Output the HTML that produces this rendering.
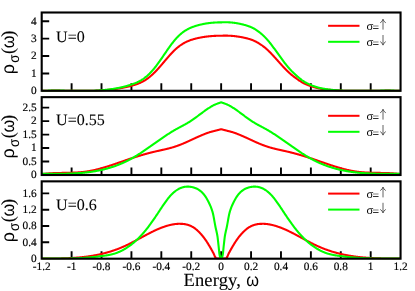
<!DOCTYPE html>
<html><head><meta charset="utf-8"><title>DOS</title>
<style>
html,body{margin:0;padding:0;background:#fff;}
body{width:415px;height:291px;position:relative;overflow:hidden;font-family:"Liberation Serif",serif;}
text{font-family:"Liberation Serif",serif;fill:#000;stroke:#000;stroke-width:0.1px;text-rendering:geometricPrecision;}
.tk{font-size:11.3px;stroke-width:0.18px;}
.ul{font-size:16px;}
.lg{font-size:11.5px;}
.xl{font-size:18.5px;}
.gs{font-family:"Liberation Sans",sans-serif;stroke:none;}
</style></head><body>
<svg width="415" height="291" viewBox="0 0 415 291" style="position:absolute;left:0;top:0;will-change:transform">
<rect width="415" height="291" fill="#fff"/>
<path d="M71.61,90.80 V83.30 M101.52,90.80 V83.30 M131.43,90.80 V83.30 M161.33,90.80 V83.30 M191.24,90.80 V83.30 M221.15,90.80 V83.30 M251.06,90.80 V83.30 M280.97,90.80 V83.30 M310.88,90.80 V83.30 M340.78,90.80 V83.30 M370.69,90.80 V83.30 M41.70,73.48 H49.20 M41.70,56.06 H49.20 M41.70,38.63 H49.20 M41.70,21.21 H49.20" stroke="#000" stroke-width="1.90" fill="none"/>
<clipPath id="c0"><rect x="41.70" y="12.50" width="358.85" height="78.90"/></clipPath>
<g clip-path="url(#c0)" fill="none" stroke-width="2.10" stroke-linejoin="round">
<path d="M41.70,90.90 L42.06,90.88 L42.42,90.87 L42.78,90.86 L43.14,90.84 L43.50,90.83 L43.86,90.82 L44.22,90.81 L44.58,90.80 L44.94,90.79 L45.30,90.78 L45.66,90.77 L46.02,90.76 L46.38,90.75 L46.73,90.74 L47.09,90.73 L47.45,90.73 L47.81,90.72 L48.17,90.71 L48.53,90.71 L48.89,90.70 L49.25,90.70 L49.61,90.69 L49.97,90.69 L50.33,90.68 L50.69,90.68 L51.05,90.67 L51.41,90.67 L51.77,90.67 L52.13,90.66 L52.49,90.66 L52.85,90.66 L53.21,90.66 L53.57,90.66 L53.93,90.66 L54.29,90.65 L54.65,90.65 L55.01,90.65 L55.37,90.65 L55.73,90.65 L56.08,90.65 L56.44,90.65 L56.80,90.66 L57.16,90.66 L57.52,90.66 L57.88,90.66 L58.24,90.66 L58.60,90.66 L58.96,90.66 L59.32,90.67 L59.68,90.67 L60.04,90.67 L60.40,90.68 L60.76,90.68 L61.12,90.68 L61.48,90.68 L61.84,90.69 L62.20,90.69 L62.56,90.70 L62.92,90.70 L63.28,90.70 L63.64,90.71 L64.00,90.71 L64.36,90.72 L64.72,90.72 L65.08,90.72 L65.43,90.73 L65.79,90.73 L66.15,90.74 L66.51,90.74 L66.87,90.75 L67.23,90.75 L67.59,90.76 L67.95,90.76 L68.31,90.77 L68.67,90.77 L69.03,90.78 L69.39,90.78 L69.75,90.78 L70.11,90.79 L70.47,90.79 L70.83,90.80 L71.19,90.80 L71.55,90.81 L71.91,90.81 L72.27,90.82 L72.63,90.82 L72.99,90.83 L73.35,90.83 L73.71,90.84 L74.07,90.84 L74.43,90.84 L74.78,90.85 L75.14,90.85 L75.50,90.86 L75.86,90.86 L76.22,90.86 L76.58,90.87 L76.94,90.87 L77.30,90.87 L77.66,90.88 L78.02,90.88 L78.38,90.88 L78.74,90.88 L79.10,90.89 L79.46,90.89 L79.82,90.89 L80.18,90.89 L80.54,90.89 L80.90,90.89 L81.26,90.89 L81.62,90.90 L81.98,90.90 L82.34,90.90 L82.70,90.90 L83.06,90.90 L83.42,90.90 L83.78,90.89 L84.14,90.89 L84.49,90.89 L84.85,90.89 L85.21,90.89 L85.57,90.89 L85.93,90.88 L86.29,90.88 L86.65,90.88 L87.01,90.88 L87.37,90.87 L87.73,90.87 L88.09,90.86 L88.45,90.86 L88.81,90.85 L89.17,90.85 L89.53,90.84 L89.89,90.83 L90.25,90.83 L90.61,90.82 L90.97,90.81 L91.33,90.81 L91.69,90.80 L92.05,90.79 L92.41,90.78 L92.77,90.77 L93.13,90.76 L93.49,90.75 L93.84,90.74 L94.20,90.73 L94.56,90.71 L94.92,90.70 L95.28,90.69 L95.64,90.68 L96.00,90.66 L96.36,90.65 L96.72,90.63 L97.08,90.62 L97.44,90.60 L97.80,90.58 L98.16,90.57 L98.52,90.55 L98.88,90.53 L99.24,90.51 L99.60,90.49 L99.96,90.47 L100.32,90.45 L100.68,90.43 L101.04,90.41 L101.40,90.39 L101.76,90.37 L102.12,90.34 L102.48,90.32 L102.84,90.29 L103.19,90.27 L103.55,90.24 L103.91,90.22 L104.27,90.19 L104.63,90.16 L104.99,90.13 L105.35,90.10 L105.71,90.07 L106.07,90.04 L106.43,90.01 L106.79,89.98 L107.15,89.95 L107.51,89.91 L107.87,89.88 L108.23,89.85 L108.59,89.81 L108.95,89.77 L109.31,89.74 L109.67,89.70 L110.03,89.66 L110.39,89.62 L110.75,89.58 L111.11,89.54 L111.47,89.50 L111.83,89.46 L112.19,89.41 L112.54,89.37 L112.90,89.32 L113.26,89.28 L113.62,89.23 L113.98,89.19 L114.34,89.14 L114.70,89.09 L115.06,89.04 L115.42,88.99 L115.78,88.94 L116.14,88.88 L116.50,88.83 L116.86,88.78 L117.22,88.72 L117.58,88.66 L117.94,88.61 L118.30,88.55 L118.66,88.49 L119.02,88.43 L119.38,88.37 L119.74,88.31 L120.10,88.25 L120.46,88.18 L120.82,88.12 L121.18,88.05 L121.54,87.99 L121.90,87.92 L122.25,87.85 L122.61,87.78 L122.97,87.71 L123.33,87.64 L123.69,87.57 L124.05,87.49 L124.41,87.42 L124.77,87.34 L125.13,87.27 L125.49,87.19 L125.85,87.11 L126.21,87.03 L126.57,86.95 L126.93,86.87 L127.29,86.79 L127.65,86.70 L128.01,86.62 L128.37,86.53 L128.73,86.44 L129.09,86.36 L129.45,86.27 L129.81,86.18 L130.17,86.08 L130.53,85.99 L130.89,85.90 L131.25,85.80 L131.60,85.71 L131.96,85.61 L132.32,85.51 L132.68,85.41 L133.04,85.31 L133.40,85.20 L133.76,85.10 L134.12,84.99 L134.48,84.88 L134.84,84.77 L135.20,84.66 L135.56,84.54 L135.92,84.42 L136.28,84.30 L136.64,84.18 L137.00,84.05 L137.36,83.92 L137.72,83.79 L138.08,83.65 L138.44,83.51 L138.80,83.37 L139.16,83.22 L139.52,83.07 L139.88,82.92 L140.24,82.76 L140.60,82.60 L140.95,82.43 L141.31,82.26 L141.67,82.08 L142.03,81.90 L142.39,81.72 L142.75,81.53 L143.11,81.33 L143.47,81.13 L143.83,80.93 L144.19,80.72 L144.55,80.50 L144.91,80.28 L145.27,80.06 L145.63,79.83 L145.99,79.59 L146.35,79.35 L146.71,79.10 L147.07,78.85 L147.43,78.60 L147.79,78.34 L148.15,78.07 L148.51,77.80 L148.87,77.52 L149.23,77.24 L149.59,76.95 L149.95,76.66 L150.31,76.37 L150.66,76.06 L151.02,75.76 L151.38,75.45 L151.74,75.13 L152.10,74.81 L152.46,74.48 L152.82,74.15 L153.18,73.81 L153.54,73.47 L153.90,73.12 L154.26,72.77 L154.62,72.41 L154.98,72.05 L155.34,71.68 L155.70,71.31 L156.06,70.94 L156.42,70.56 L156.78,70.17 L157.14,69.78 L157.50,69.39 L157.86,69.00 L158.22,68.60 L158.58,68.20 L158.94,67.80 L159.30,67.39 L159.66,66.98 L160.01,66.57 L160.37,66.16 L160.73,65.74 L161.09,65.32 L161.45,64.91 L161.81,64.49 L162.17,64.06 L162.53,63.64 L162.89,63.22 L163.25,62.80 L163.61,62.37 L163.97,61.95 L164.33,61.52 L164.69,61.10 L165.05,60.67 L165.41,60.25 L165.77,59.83 L166.13,59.41 L166.49,58.98 L166.85,58.56 L167.21,58.15 L167.57,57.73 L167.93,57.31 L168.29,56.90 L168.65,56.49 L169.01,56.08 L169.36,55.67 L169.72,55.27 L170.08,54.87 L170.44,54.47 L170.80,54.08 L171.16,53.69 L171.52,53.30 L171.88,52.92 L172.24,52.54 L172.60,52.16 L172.96,51.79 L173.32,51.42 L173.68,51.06 L174.04,50.70 L174.40,50.35 L174.76,50.00 L175.12,49.66 L175.48,49.32 L175.84,48.99 L176.20,48.67 L176.56,48.35 L176.92,48.04 L177.28,47.74 L177.64,47.44 L178.00,47.14 L178.36,46.86 L178.71,46.57 L179.07,46.30 L179.43,46.03 L179.79,45.77 L180.15,45.51 L180.51,45.26 L180.87,45.01 L181.23,44.77 L181.59,44.53 L181.95,44.30 L182.31,44.07 L182.67,43.85 L183.03,43.64 L183.39,43.43 L183.75,43.22 L184.11,43.02 L184.47,42.82 L184.83,42.63 L185.19,42.44 L185.55,42.26 L185.91,42.08 L186.27,41.90 L186.63,41.73 L186.99,41.57 L187.35,41.41 L187.71,41.25 L188.07,41.09 L188.42,40.94 L188.78,40.80 L189.14,40.65 L189.50,40.51 L189.86,40.38 L190.22,40.24 L190.58,40.11 L190.94,39.99 L191.30,39.87 L191.66,39.75 L192.02,39.63 L192.38,39.51 L192.74,39.40 L193.10,39.30 L193.46,39.19 L193.82,39.09 L194.18,38.99 L194.54,38.89 L194.90,38.79 L195.26,38.70 L195.62,38.61 L195.98,38.52 L196.34,38.43 L196.70,38.35 L197.06,38.26 L197.42,38.18 L197.77,38.10 L198.13,38.02 L198.49,37.95 L198.85,37.87 L199.21,37.80 L199.57,37.73 L199.93,37.66 L200.29,37.59 L200.65,37.52 L201.01,37.45 L201.37,37.39 L201.73,37.32 L202.09,37.26 L202.45,37.20 L202.81,37.14 L203.17,37.08 L203.53,37.02 L203.89,36.97 L204.25,36.91 L204.61,36.86 L204.97,36.81 L205.33,36.76 L205.69,36.71 L206.05,36.66 L206.41,36.62 L206.77,36.57 L207.12,36.53 L207.48,36.48 L207.84,36.44 L208.20,36.40 L208.56,36.36 L208.92,36.32 L209.28,36.29 L209.64,36.25 L210.00,36.22 L210.36,36.19 L210.72,36.15 L211.08,36.12 L211.44,36.09 L211.80,36.07 L212.16,36.04 L212.52,36.01 L212.88,35.99 L213.24,35.97 L213.60,35.94 L213.96,35.92 L214.32,35.90 L214.68,35.88 L215.04,35.87 L215.40,35.85 L215.76,35.83 L216.12,35.82 L216.47,35.81 L216.83,35.79 L217.19,35.78 L217.55,35.77 L217.91,35.76 L218.27,35.76 L218.63,35.75 L218.99,35.74 L219.35,35.74 L219.71,35.74 L220.07,35.73 L220.43,35.73 L220.79,35.73 L221.15,35.73 L221.51,35.71 L221.87,35.70 L222.23,35.69 L222.59,35.68 L222.95,35.67 L223.31,35.67 L223.67,35.66 L224.03,35.65 L224.39,35.65 L224.75,35.65 L225.11,35.65 L225.47,35.65 L225.83,35.65 L226.18,35.65 L226.54,35.65 L226.90,35.66 L227.26,35.66 L227.62,35.67 L227.98,35.68 L228.34,35.69 L228.70,35.71 L229.06,35.72 L229.42,35.73 L229.78,35.75 L230.14,35.77 L230.50,35.79 L230.86,35.81 L231.22,35.83 L231.58,35.86 L231.94,35.89 L232.30,35.91 L232.66,35.94 L233.02,35.98 L233.38,36.01 L233.74,36.04 L234.10,36.08 L234.46,36.12 L234.82,36.16 L235.18,36.20 L235.53,36.25 L235.89,36.29 L236.25,36.34 L236.61,36.39 L236.97,36.44 L237.33,36.49 L237.69,36.54 L238.05,36.59 L238.41,36.65 L238.77,36.70 L239.13,36.76 L239.49,36.82 L239.85,36.88 L240.21,36.94 L240.57,37.00 L240.93,37.07 L241.29,37.13 L241.65,37.20 L242.01,37.26 L242.37,37.33 L242.73,37.40 L243.09,37.48 L243.45,37.55 L243.81,37.63 L244.17,37.70 L244.53,37.78 L244.88,37.86 L245.24,37.94 L245.60,38.02 L245.96,38.11 L246.32,38.20 L246.68,38.29 L247.04,38.38 L247.40,38.47 L247.76,38.57 L248.12,38.66 L248.48,38.76 L248.84,38.87 L249.20,38.97 L249.56,39.08 L249.92,39.19 L250.28,39.31 L250.64,39.43 L251.00,39.55 L251.36,39.68 L251.72,39.81 L252.08,39.95 L252.44,40.09 L252.80,40.24 L253.16,40.39 L253.52,40.54 L253.88,40.70 L254.23,40.86 L254.59,41.03 L254.95,41.20 L255.31,41.38 L255.67,41.56 L256.03,41.74 L256.39,41.93 L256.75,42.13 L257.11,42.32 L257.47,42.53 L257.83,42.73 L258.19,42.94 L258.55,43.15 L258.91,43.37 L259.27,43.59 L259.63,43.82 L259.99,44.05 L260.35,44.28 L260.71,44.52 L261.07,44.76 L261.43,45.01 L261.79,45.26 L262.15,45.51 L262.51,45.77 L262.87,46.03 L263.23,46.29 L263.59,46.57 L263.94,46.84 L264.30,47.12 L264.66,47.41 L265.02,47.70 L265.38,48.00 L265.74,48.31 L266.10,48.62 L266.46,48.93 L266.82,49.25 L267.18,49.58 L267.54,49.91 L267.90,50.24 L268.26,50.59 L268.62,50.93 L268.98,51.28 L269.34,51.64 L269.70,52.00 L270.06,52.36 L270.42,52.73 L270.78,53.10 L271.14,53.47 L271.50,53.85 L271.86,54.24 L272.22,54.62 L272.58,55.01 L272.94,55.40 L273.29,55.79 L273.65,56.18 L274.01,56.57 L274.37,56.96 L274.73,57.36 L275.09,57.75 L275.45,58.15 L275.81,58.55 L276.17,58.95 L276.53,59.35 L276.89,59.75 L277.25,60.15 L277.61,60.55 L277.97,60.95 L278.33,61.35 L278.69,61.75 L279.05,62.15 L279.41,62.55 L279.77,62.95 L280.13,63.35 L280.49,63.75 L280.85,64.16 L281.21,64.56 L281.57,64.96 L281.93,65.35 L282.29,65.75 L282.64,66.15 L283.00,66.54 L283.36,66.93 L283.72,67.32 L284.08,67.70 L284.44,68.08 L284.80,68.46 L285.16,68.84 L285.52,69.21 L285.88,69.58 L286.24,69.94 L286.60,70.30 L286.96,70.66 L287.32,71.01 L287.68,71.36 L288.04,71.70 L288.40,72.04 L288.76,72.37 L289.12,72.70 L289.48,73.02 L289.84,73.34 L290.20,73.66 L290.56,73.97 L290.92,74.28 L291.28,74.58 L291.64,74.88 L291.99,75.18 L292.35,75.47 L292.71,75.75 L293.07,76.04 L293.43,76.32 L293.79,76.59 L294.15,76.86 L294.51,77.13 L294.87,77.40 L295.23,77.67 L295.59,77.94 L295.95,78.21 L296.31,78.47 L296.67,78.74 L297.03,79.00 L297.39,79.26 L297.75,79.51 L298.11,79.77 L298.47,80.02 L298.83,80.27 L299.19,80.51 L299.55,80.75 L299.91,80.99 L300.27,81.22 L300.63,81.45 L300.99,81.67 L301.35,81.89 L301.70,82.11 L302.06,82.32 L302.42,82.53 L302.78,82.73 L303.14,82.92 L303.50,83.11 L303.86,83.30 L304.22,83.48 L304.58,83.66 L304.94,83.83 L305.30,83.99 L305.66,84.15 L306.02,84.30 L306.38,84.45 L306.74,84.60 L307.10,84.74 L307.46,84.88 L307.82,85.03 L308.18,85.16 L308.54,85.30 L308.90,85.44 L309.26,85.57 L309.62,85.70 L309.98,85.83 L310.34,85.96 L310.70,86.08 L311.05,86.21 L311.41,86.33 L311.77,86.45 L312.13,86.57 L312.49,86.69 L312.85,86.80 L313.21,86.91 L313.57,87.02 L313.93,87.13 L314.29,87.24 L314.65,87.34 L315.01,87.44 L315.37,87.54 L315.73,87.63 L316.09,87.73 L316.45,87.82 L316.81,87.90 L317.17,87.99 L317.53,88.07 L317.89,88.14 L318.25,88.22 L318.61,88.29 L318.97,88.36 L319.33,88.43 L319.69,88.50 L320.05,88.57 L320.40,88.63 L320.76,88.69 L321.12,88.75 L321.48,88.81 L321.84,88.87 L322.20,88.93 L322.56,88.99 L322.92,89.04 L323.28,89.09 L323.64,89.14 L324.00,89.20 L324.36,89.24 L324.72,89.29 L325.08,89.34 L325.44,89.38 L325.80,89.43 L326.16,89.47 L326.52,89.51 L326.88,89.56 L327.24,89.60 L327.60,89.63 L327.96,89.67 L328.32,89.71 L328.68,89.75 L329.04,89.78 L329.40,89.82 L329.76,89.85 L330.11,89.88 L330.47,89.91 L330.83,89.95 L331.19,89.98 L331.55,90.01 L331.91,90.04 L332.27,90.06 L332.63,90.09 L332.99,90.12 L333.35,90.15 L333.71,90.17 L334.07,90.20 L334.43,90.22 L334.79,90.25 L335.15,90.27 L335.51,90.30 L335.87,90.32 L336.23,90.34 L336.59,90.37 L336.95,90.39 L337.31,90.41 L337.67,90.43 L338.03,90.45 L338.39,90.48 L338.75,90.50 L339.11,90.52 L339.46,90.54 L339.82,90.56 L340.18,90.58 L340.54,90.60 L340.90,90.62 L341.26,90.64 L341.62,90.66 L341.98,90.68 L342.34,90.70 L342.70,90.72 L343.06,90.73 L343.42,90.75 L343.78,90.76 L344.14,90.78 L344.50,90.79 L344.86,90.81 L345.22,90.82 L345.58,90.83 L345.94,90.85 L346.30,90.86 L346.66,90.87 L347.02,90.88 L347.38,90.89 L347.74,90.90 L348.10,90.90 L348.46,90.90 L348.81,90.90 L349.17,90.90 L349.53,90.90 L349.89,90.90 L350.25,90.90 L350.61,90.90 L350.97,90.90 L351.33,90.90 L351.69,90.90 L352.05,90.90 L352.41,90.90 L352.77,90.90 L353.13,90.90 L353.49,90.90 L353.85,90.90 L354.21,90.90 L354.57,90.90 L354.93,90.90 L355.29,90.90 L355.65,90.90 L356.01,90.90 L356.37,90.90 L356.73,90.90 L357.09,90.90 L357.45,90.90 L357.81,90.90 L358.16,90.90 L358.52,90.90 L358.88,90.90 L359.24,90.90 L359.60,90.90 L359.96,90.90 L360.32,90.90 L360.68,90.90 L361.04,90.90 L361.40,90.90 L361.76,90.90 L362.12,90.90 L362.48,90.90 L362.84,90.90 L363.20,90.90 L363.56,90.90 L363.92,90.90 L364.28,90.90 L364.64,90.90 L365.00,90.90 L365.36,90.90 L365.72,90.90 L366.08,90.90 L366.44,90.90 L366.80,90.90 L367.16,90.90 L367.52,90.90 L367.87,90.90 L368.23,90.90 L368.59,90.90 L368.95,90.90 L369.31,90.89 L369.67,90.89 L370.03,90.88 L370.39,90.88 L370.75,90.87 L371.11,90.86 L371.47,90.86 L371.83,90.85 L372.19,90.84 L372.55,90.84 L372.91,90.83 L373.27,90.83 L373.63,90.82 L373.99,90.81 L374.35,90.81 L374.71,90.80 L375.07,90.80 L375.43,90.79 L375.79,90.78 L376.15,90.78 L376.51,90.77 L376.87,90.77 L377.22,90.76 L377.58,90.76 L377.94,90.75 L378.30,90.74 L378.66,90.74 L379.02,90.73 L379.38,90.73 L379.74,90.72 L380.10,90.72 L380.46,90.72 L380.82,90.71 L381.18,90.71 L381.54,90.70 L381.90,90.70 L382.26,90.69 L382.62,90.69 L382.98,90.69 L383.34,90.68 L383.70,90.68 L384.06,90.68 L384.42,90.68 L384.78,90.67 L385.14,90.67 L385.50,90.67 L385.86,90.67 L386.22,90.67 L386.57,90.67 L386.93,90.67 L387.29,90.67 L387.65,90.66 L388.01,90.66 L388.37,90.67 L388.73,90.67 L389.09,90.67 L389.45,90.67 L389.81,90.67 L390.17,90.67 L390.53,90.67 L390.89,90.68 L391.25,90.68 L391.61,90.68 L391.97,90.69 L392.33,90.69 L392.69,90.69 L393.05,90.70 L393.41,90.70 L393.77,90.71 L394.13,90.72 L394.49,90.72 L394.85,90.73 L395.21,90.74 L395.57,90.74 L395.92,90.75 L396.28,90.76 L396.64,90.77 L397.00,90.78 L397.36,90.79 L397.72,90.80 L398.08,90.81 L398.44,90.82 L398.80,90.83 L399.16,90.84 L399.52,90.86 L399.88,90.87 L400.24,90.88 L400.60,90.90" stroke="#ff0000"/>
<path d="M41.70,90.90 L42.06,90.88 L42.42,90.86 L42.78,90.85 L43.14,90.83 L43.50,90.82 L43.86,90.80 L44.22,90.79 L44.58,90.77 L44.94,90.76 L45.30,90.75 L45.66,90.74 L46.02,90.73 L46.38,90.71 L46.73,90.70 L47.09,90.69 L47.45,90.69 L47.81,90.68 L48.17,90.67 L48.53,90.66 L48.89,90.65 L49.25,90.65 L49.61,90.64 L49.97,90.63 L50.33,90.63 L50.69,90.62 L51.05,90.62 L51.41,90.61 L51.77,90.61 L52.13,90.61 L52.49,90.60 L52.85,90.60 L53.21,90.60 L53.57,90.60 L53.93,90.60 L54.29,90.60 L54.65,90.59 L55.01,90.59 L55.37,90.59 L55.73,90.59 L56.08,90.59 L56.44,90.59 L56.80,90.60 L57.16,90.60 L57.52,90.60 L57.88,90.60 L58.24,90.60 L58.60,90.61 L58.96,90.61 L59.32,90.61 L59.68,90.61 L60.04,90.62 L60.40,90.62 L60.76,90.62 L61.12,90.63 L61.48,90.63 L61.84,90.64 L62.20,90.64 L62.56,90.65 L62.92,90.65 L63.28,90.65 L63.64,90.66 L64.00,90.67 L64.36,90.67 L64.72,90.68 L65.08,90.68 L65.43,90.69 L65.79,90.69 L66.15,90.70 L66.51,90.70 L66.87,90.71 L67.23,90.72 L67.59,90.72 L67.95,90.73 L68.31,90.73 L68.67,90.74 L69.03,90.75 L69.39,90.75 L69.75,90.76 L70.11,90.76 L70.47,90.77 L70.83,90.77 L71.19,90.78 L71.55,90.79 L71.91,90.79 L72.27,90.80 L72.63,90.80 L72.99,90.81 L73.35,90.81 L73.71,90.82 L74.07,90.82 L74.43,90.83 L74.78,90.83 L75.14,90.84 L75.50,90.84 L75.86,90.85 L76.22,90.85 L76.58,90.86 L76.94,90.86 L77.30,90.87 L77.66,90.87 L78.02,90.87 L78.38,90.88 L78.74,90.88 L79.10,90.88 L79.46,90.88 L79.82,90.89 L80.18,90.89 L80.54,90.89 L80.90,90.89 L81.26,90.89 L81.62,90.89 L81.98,90.89 L82.34,90.90 L82.70,90.90 L83.06,90.90 L83.42,90.89 L83.78,90.89 L84.14,90.89 L84.49,90.89 L84.85,90.89 L85.21,90.89 L85.57,90.88 L85.93,90.88 L86.29,90.88 L86.65,90.87 L87.01,90.87 L87.37,90.86 L87.73,90.86 L88.09,90.85 L88.45,90.85 L88.81,90.84 L89.17,90.83 L89.53,90.83 L89.89,90.82 L90.25,90.81 L90.61,90.80 L90.97,90.79 L91.33,90.78 L91.69,90.77 L92.05,90.76 L92.41,90.75 L92.77,90.74 L93.13,90.73 L93.49,90.71 L93.84,90.70 L94.20,90.68 L94.56,90.67 L94.92,90.65 L95.28,90.64 L95.64,90.62 L96.00,90.60 L96.36,90.59 L96.72,90.57 L97.08,90.55 L97.44,90.53 L97.80,90.51 L98.16,90.49 L98.52,90.47 L98.88,90.44 L99.24,90.42 L99.60,90.40 L99.96,90.37 L100.32,90.35 L100.68,90.32 L101.04,90.29 L101.40,90.27 L101.76,90.24 L102.12,90.21 L102.48,90.18 L102.84,90.15 L103.19,90.12 L103.55,90.08 L103.91,90.05 L104.27,90.02 L104.63,89.98 L104.99,89.95 L105.35,89.91 L105.71,89.87 L106.07,89.84 L106.43,89.80 L106.79,89.76 L107.15,89.72 L107.51,89.68 L107.87,89.63 L108.23,89.59 L108.59,89.55 L108.95,89.50 L109.31,89.46 L109.67,89.41 L110.03,89.36 L110.39,89.31 L110.75,89.26 L111.11,89.21 L111.47,89.16 L111.83,89.11 L112.19,89.05 L112.54,89.00 L112.90,88.94 L113.26,88.89 L113.62,88.83 L113.98,88.77 L114.34,88.71 L114.70,88.65 L115.06,88.59 L115.42,88.52 L115.78,88.46 L116.14,88.39 L116.50,88.33 L116.86,88.26 L117.22,88.19 L117.58,88.12 L117.94,88.05 L118.30,87.98 L118.66,87.91 L119.02,87.83 L119.38,87.76 L119.74,87.68 L120.10,87.60 L120.46,87.52 L120.82,87.44 L121.18,87.36 L121.54,87.28 L121.90,87.20 L122.25,87.11 L122.61,87.03 L122.97,86.94 L123.33,86.85 L123.69,86.76 L124.05,86.67 L124.41,86.58 L124.77,86.48 L125.13,86.39 L125.49,86.29 L125.85,86.19 L126.21,86.10 L126.57,85.99 L126.93,85.89 L127.29,85.79 L127.65,85.69 L128.01,85.58 L128.37,85.47 L128.73,85.36 L129.09,85.26 L129.45,85.14 L129.81,85.03 L130.17,84.92 L130.53,84.80 L130.89,84.69 L131.25,84.57 L131.60,84.45 L131.96,84.33 L132.32,84.20 L132.68,84.08 L133.04,83.95 L133.40,83.82 L133.76,83.69 L134.12,83.56 L134.48,83.42 L134.84,83.29 L135.20,83.14 L135.56,83.00 L135.92,82.85 L136.28,82.70 L136.64,82.55 L137.00,82.39 L137.36,82.23 L137.72,82.06 L138.08,81.89 L138.44,81.72 L138.80,81.54 L139.16,81.36 L139.52,81.17 L139.88,80.98 L140.24,80.79 L140.60,80.58 L140.95,80.38 L141.31,80.16 L141.67,79.95 L142.03,79.72 L142.39,79.49 L142.75,79.26 L143.11,79.01 L143.47,78.77 L143.83,78.51 L144.19,78.25 L144.55,77.98 L144.91,77.71 L145.27,77.43 L145.63,77.14 L145.99,76.85 L146.35,76.55 L146.71,76.25 L147.07,75.93 L147.43,75.62 L147.79,75.29 L148.15,74.96 L148.51,74.63 L148.87,74.28 L149.23,73.93 L149.59,73.58 L149.95,73.21 L150.31,72.85 L150.66,72.47 L151.02,72.09 L151.38,71.70 L151.74,71.31 L152.10,70.91 L152.46,70.50 L152.82,70.09 L153.18,69.67 L153.54,69.25 L153.90,68.82 L154.26,68.38 L154.62,67.93 L154.98,67.48 L155.34,67.03 L155.70,66.57 L156.06,66.10 L156.42,65.63 L156.78,65.15 L157.14,64.67 L157.50,64.18 L157.86,63.69 L158.22,63.20 L158.58,62.70 L158.94,62.20 L159.30,61.69 L159.66,61.19 L160.01,60.68 L160.37,60.16 L160.73,59.65 L161.09,59.13 L161.45,58.61 L161.81,58.09 L162.17,57.56 L162.53,57.04 L162.89,56.51 L163.25,55.99 L163.61,55.46 L163.97,54.93 L164.33,54.41 L164.69,53.88 L165.05,53.35 L165.41,52.83 L165.77,52.30 L166.13,51.78 L166.49,51.25 L166.85,50.73 L167.21,50.21 L167.57,49.69 L167.93,49.18 L168.29,48.67 L168.65,48.15 L169.01,47.65 L169.36,47.14 L169.72,46.64 L170.08,46.14 L170.44,45.65 L170.80,45.16 L171.16,44.67 L171.52,44.19 L171.88,43.71 L172.24,43.24 L172.60,42.78 L172.96,42.31 L173.32,41.86 L173.68,41.41 L174.04,40.96 L174.40,40.53 L174.76,40.10 L175.12,39.67 L175.48,39.25 L175.84,38.84 L176.20,38.44 L176.56,38.05 L176.92,37.66 L177.28,37.28 L177.64,36.91 L178.00,36.54 L178.36,36.19 L178.71,35.84 L179.07,35.50 L179.43,35.16 L179.79,34.83 L180.15,34.51 L180.51,34.20 L180.87,33.89 L181.23,33.59 L181.59,33.30 L181.95,33.01 L182.31,32.73 L182.67,32.46 L183.03,32.19 L183.39,31.93 L183.75,31.67 L184.11,31.42 L184.47,31.17 L184.83,30.94 L185.19,30.70 L185.55,30.47 L185.91,30.25 L186.27,30.04 L186.63,29.82 L186.99,29.62 L187.35,29.42 L187.71,29.22 L188.07,29.03 L188.42,28.84 L188.78,28.66 L189.14,28.48 L189.50,28.31 L189.86,28.14 L190.22,27.97 L190.58,27.81 L190.94,27.66 L191.30,27.50 L191.66,27.35 L192.02,27.21 L192.38,27.07 L192.74,26.93 L193.10,26.79 L193.46,26.66 L193.82,26.54 L194.18,26.41 L194.54,26.29 L194.90,26.17 L195.26,26.05 L195.62,25.94 L195.98,25.83 L196.34,25.72 L196.70,25.62 L197.06,25.51 L197.42,25.41 L197.77,25.31 L198.13,25.22 L198.49,25.12 L198.85,25.03 L199.21,24.94 L199.57,24.85 L199.93,24.76 L200.29,24.67 L200.65,24.59 L201.01,24.51 L201.37,24.42 L201.73,24.35 L202.09,24.27 L202.45,24.19 L202.81,24.12 L203.17,24.05 L203.53,23.97 L203.89,23.90 L204.25,23.84 L204.61,23.77 L204.97,23.71 L205.33,23.64 L205.69,23.58 L206.05,23.52 L206.41,23.47 L206.77,23.41 L207.12,23.35 L207.48,23.30 L207.84,23.25 L208.20,23.20 L208.56,23.15 L208.92,23.10 L209.28,23.06 L209.64,23.02 L210.00,22.97 L210.36,22.93 L210.72,22.89 L211.08,22.85 L211.44,22.82 L211.80,22.78 L212.16,22.75 L212.52,22.72 L212.88,22.69 L213.24,22.66 L213.60,22.63 L213.96,22.60 L214.32,22.58 L214.68,22.56 L215.04,22.53 L215.40,22.51 L215.76,22.49 L216.12,22.48 L216.47,22.46 L216.83,22.45 L217.19,22.43 L217.55,22.42 L217.91,22.41 L218.27,22.40 L218.63,22.39 L218.99,22.38 L219.35,22.38 L219.71,22.37 L220.07,22.37 L220.43,22.37 L220.79,22.37 L221.15,22.36 L221.51,22.35 L221.87,22.33 L222.23,22.32 L222.59,22.31 L222.95,22.30 L223.31,22.29 L223.67,22.28 L224.03,22.27 L224.39,22.27 L224.75,22.26 L225.11,22.26 L225.47,22.26 L225.83,22.26 L226.18,22.27 L226.54,22.27 L226.90,22.28 L227.26,22.28 L227.62,22.29 L227.98,22.31 L228.34,22.32 L228.70,22.33 L229.06,22.35 L229.42,22.37 L229.78,22.39 L230.14,22.41 L230.50,22.44 L230.86,22.47 L231.22,22.50 L231.58,22.53 L231.94,22.56 L232.30,22.59 L232.66,22.63 L233.02,22.67 L233.38,22.71 L233.74,22.76 L234.10,22.80 L234.46,22.85 L234.82,22.90 L235.18,22.95 L235.53,23.01 L235.89,23.07 L236.25,23.12 L236.61,23.18 L236.97,23.24 L237.33,23.31 L237.69,23.37 L238.05,23.44 L238.41,23.50 L238.77,23.57 L239.13,23.65 L239.49,23.72 L239.85,23.79 L240.21,23.87 L240.57,23.95 L240.93,24.02 L241.29,24.11 L241.65,24.19 L242.01,24.27 L242.37,24.36 L242.73,24.45 L243.09,24.54 L243.45,24.63 L243.81,24.72 L244.17,24.82 L244.53,24.91 L244.88,25.01 L245.24,25.11 L245.60,25.22 L245.96,25.32 L246.32,25.43 L246.68,25.54 L247.04,25.65 L247.40,25.77 L247.76,25.89 L248.12,26.01 L248.48,26.14 L248.84,26.26 L249.20,26.39 L249.56,26.53 L249.92,26.67 L250.28,26.81 L250.64,26.96 L251.00,27.11 L251.36,27.27 L251.72,27.43 L252.08,27.61 L252.44,27.78 L252.80,27.96 L253.16,28.15 L253.52,28.34 L253.88,28.54 L254.23,28.74 L254.59,28.95 L254.95,29.16 L255.31,29.38 L255.67,29.61 L256.03,29.84 L256.39,30.07 L256.75,30.31 L257.11,30.56 L257.47,30.81 L257.83,31.06 L258.19,31.32 L258.55,31.59 L258.91,31.86 L259.27,32.13 L259.63,32.41 L259.99,32.70 L260.35,32.99 L260.71,33.28 L261.07,33.58 L261.43,33.89 L261.79,34.20 L262.15,34.51 L262.51,34.83 L262.87,35.16 L263.23,35.49 L263.59,35.83 L263.94,36.17 L264.30,36.52 L264.66,36.88 L265.02,37.24 L265.38,37.61 L265.74,37.99 L266.10,38.37 L266.46,38.76 L266.82,39.16 L267.18,39.57 L267.54,39.98 L267.90,40.40 L268.26,40.82 L268.62,41.25 L268.98,41.69 L269.34,42.13 L269.70,42.57 L270.06,43.02 L270.42,43.48 L270.78,43.94 L271.14,44.41 L271.50,44.88 L271.86,45.35 L272.22,45.83 L272.58,46.31 L272.94,46.80 L273.29,47.28 L273.65,47.77 L274.01,48.25 L274.37,48.74 L274.73,49.23 L275.09,49.73 L275.45,50.22 L275.81,50.71 L276.17,51.21 L276.53,51.70 L276.89,52.20 L277.25,52.70 L277.61,53.19 L277.97,53.69 L278.33,54.19 L278.69,54.69 L279.05,55.19 L279.41,55.68 L279.77,56.18 L280.13,56.68 L280.49,57.18 L280.85,57.68 L281.21,58.17 L281.57,58.67 L281.93,59.17 L282.29,59.66 L282.64,60.15 L283.00,60.64 L283.36,61.13 L283.72,61.61 L284.08,62.08 L284.44,62.56 L284.80,63.03 L285.16,63.49 L285.52,63.95 L285.88,64.41 L286.24,64.86 L286.60,65.31 L286.96,65.75 L287.32,66.19 L287.68,66.62 L288.04,67.05 L288.40,67.47 L288.76,67.88 L289.12,68.29 L289.48,68.69 L289.84,69.09 L290.20,69.48 L290.56,69.87 L290.92,70.25 L291.28,70.63 L291.64,71.00 L291.99,71.37 L292.35,71.73 L292.71,72.09 L293.07,72.44 L293.43,72.78 L293.79,73.13 L294.15,73.46 L294.51,73.80 L294.87,74.13 L295.23,74.47 L295.59,74.80 L295.95,75.13 L296.31,75.46 L296.67,75.79 L297.03,76.11 L297.39,76.44 L297.75,76.76 L298.11,77.07 L298.47,77.38 L298.83,77.69 L299.19,77.99 L299.55,78.29 L299.91,78.59 L300.27,78.88 L300.63,79.16 L300.99,79.44 L301.35,79.71 L301.70,79.98 L302.06,80.24 L302.42,80.50 L302.78,80.75 L303.14,80.99 L303.50,81.23 L303.86,81.46 L304.22,81.68 L304.58,81.90 L304.94,82.11 L305.30,82.32 L305.66,82.51 L306.02,82.70 L306.38,82.89 L306.74,83.07 L307.10,83.25 L307.46,83.43 L307.82,83.60 L308.18,83.77 L308.54,83.94 L308.90,84.11 L309.26,84.28 L309.62,84.44 L309.98,84.60 L310.34,84.76 L310.70,84.92 L311.05,85.07 L311.41,85.22 L311.77,85.37 L312.13,85.52 L312.49,85.66 L312.85,85.81 L313.21,85.95 L313.57,86.08 L313.93,86.22 L314.29,86.35 L314.65,86.48 L315.01,86.60 L315.37,86.72 L315.73,86.84 L316.09,86.96 L316.45,87.07 L316.81,87.18 L317.17,87.28 L317.53,87.38 L317.89,87.48 L318.25,87.57 L318.61,87.66 L318.97,87.75 L319.33,87.83 L319.69,87.92 L320.05,88.00 L320.40,88.08 L320.76,88.16 L321.12,88.23 L321.48,88.31 L321.84,88.38 L322.20,88.45 L322.56,88.52 L322.92,88.59 L323.28,88.66 L323.64,88.72 L324.00,88.78 L324.36,88.84 L324.72,88.90 L325.08,88.96 L325.44,89.02 L325.80,89.07 L326.16,89.13 L326.52,89.18 L326.88,89.23 L327.24,89.28 L327.60,89.33 L327.96,89.38 L328.32,89.42 L328.68,89.47 L329.04,89.51 L329.40,89.55 L329.76,89.60 L330.11,89.64 L330.47,89.68 L330.83,89.71 L331.19,89.75 L331.55,89.79 L331.91,89.83 L332.27,89.86 L332.63,89.90 L332.99,89.93 L333.35,89.96 L333.71,90.00 L334.07,90.03 L334.43,90.06 L334.79,90.09 L335.15,90.12 L335.51,90.15 L335.87,90.18 L336.23,90.21 L336.59,90.24 L336.95,90.26 L337.31,90.29 L337.67,90.32 L338.03,90.35 L338.39,90.37 L338.75,90.40 L339.11,90.43 L339.46,90.45 L339.82,90.48 L340.18,90.51 L340.54,90.53 L340.90,90.56 L341.26,90.58 L341.62,90.60 L341.98,90.63 L342.34,90.65 L342.70,90.67 L343.06,90.69 L343.42,90.71 L343.78,90.73 L344.14,90.75 L344.50,90.77 L344.86,90.78 L345.22,90.80 L345.58,90.82 L345.94,90.83 L346.30,90.85 L346.66,90.86 L347.02,90.88 L347.38,90.89 L347.74,90.90 L348.10,90.90 L348.46,90.90 L348.81,90.90 L349.17,90.90 L349.53,90.90 L349.89,90.90 L350.25,90.90 L350.61,90.90 L350.97,90.90 L351.33,90.90 L351.69,90.90 L352.05,90.90 L352.41,90.90 L352.77,90.90 L353.13,90.90 L353.49,90.90 L353.85,90.90 L354.21,90.90 L354.57,90.90 L354.93,90.90 L355.29,90.90 L355.65,90.90 L356.01,90.90 L356.37,90.90 L356.73,90.90 L357.09,90.90 L357.45,90.90 L357.81,90.90 L358.16,90.90 L358.52,90.90 L358.88,90.90 L359.24,90.90 L359.60,90.90 L359.96,90.90 L360.32,90.90 L360.68,90.90 L361.04,90.90 L361.40,90.90 L361.76,90.90 L362.12,90.90 L362.48,90.90 L362.84,90.90 L363.20,90.90 L363.56,90.90 L363.92,90.90 L364.28,90.90 L364.64,90.90 L365.00,90.90 L365.36,90.90 L365.72,90.90 L366.08,90.90 L366.44,90.90 L366.80,90.90 L367.16,90.90 L367.52,90.90 L367.87,90.90 L368.23,90.90 L368.59,90.90 L368.95,90.90 L369.31,90.89 L369.67,90.88 L370.03,90.88 L370.39,90.87 L370.75,90.86 L371.11,90.85 L371.47,90.85 L371.83,90.84 L372.19,90.83 L372.55,90.82 L372.91,90.82 L373.27,90.81 L373.63,90.80 L373.99,90.79 L374.35,90.79 L374.71,90.78 L375.07,90.77 L375.43,90.76 L375.79,90.76 L376.15,90.75 L376.51,90.74 L376.87,90.73 L377.22,90.73 L377.58,90.72 L377.94,90.71 L378.30,90.71 L378.66,90.70 L379.02,90.69 L379.38,90.69 L379.74,90.68 L380.10,90.68 L380.46,90.67 L380.82,90.67 L381.18,90.66 L381.54,90.65 L381.90,90.65 L382.26,90.65 L382.62,90.64 L382.98,90.64 L383.34,90.63 L383.70,90.63 L384.06,90.63 L384.42,90.62 L384.78,90.62 L385.14,90.62 L385.50,90.61 L385.86,90.61 L386.22,90.61 L386.57,90.61 L386.93,90.61 L387.29,90.61 L387.65,90.61 L388.01,90.61 L388.37,90.61 L388.73,90.61 L389.09,90.61 L389.45,90.61 L389.81,90.61 L390.17,90.62 L390.53,90.62 L390.89,90.62 L391.25,90.63 L391.61,90.63 L391.97,90.63 L392.33,90.64 L392.69,90.64 L393.05,90.65 L393.41,90.66 L393.77,90.66 L394.13,90.67 L394.49,90.68 L394.85,90.69 L395.21,90.70 L395.57,90.71 L395.92,90.72 L396.28,90.73 L396.64,90.74 L397.00,90.75 L397.36,90.76 L397.72,90.77 L398.08,90.79 L398.44,90.80 L398.80,90.82 L399.16,90.83 L399.52,90.85 L399.88,90.86 L400.24,90.88 L400.60,90.90" stroke="#00ff00"/>
</g>
<rect x="41.70" y="12.50" width="358.85" height="78.30" fill="none" stroke="#000" stroke-width="2.10"/>
<text x="36.7" y="94.10" text-anchor="end" class="tk">0</text>
<text x="36.7" y="76.78" text-anchor="end" class="tk">1</text>
<text x="36.7" y="59.36" text-anchor="end" class="tk">2</text>
<text x="36.7" y="41.93" text-anchor="end" class="tk">3</text>
<text x="36.7" y="24.51" text-anchor="end" class="tk">4</text>
<text x="56.1" y="41.50" class="ul">U=0</text>
<path d="M328.1,25.80 H359.5" stroke="#ff0000" stroke-width="2.00"/>
<path d="M328.1,41.80 H359.5" stroke="#00ff00" stroke-width="2.00"/>
<text x="366.5" y="30.00" class="gs" font-size="11">σ</text>
<text x="372.45" y="30.90" class="lg" font-size="13">=</text>
<path d="M383.00,29.60 V19.30 M380.20,22.80 Q382.40,21.50 383.00,19.30 Q383.60,21.50 385.80,22.80" stroke="#505050" stroke-width="0.9" fill="none"/>
<text x="366.5" y="46.00" class="gs" font-size="11">σ</text>
<text x="372.45" y="46.90" class="lg" font-size="13">=</text>
<path d="M383.00,35.00 V45.10 M380.20,41.60 Q382.40,42.90 383.00,45.10 Q383.60,42.90 385.80,41.60" stroke="#505050" stroke-width="0.9" fill="none"/>
<g transform="translate(13.7,73.00) rotate(-90)">
<text x="-1.15" y="0" class="gs" font-size="18">ρ</text>
<text transform="translate(10.15,5.5) scale(0.9,1)" class="gs" font-size="14.6">σ</text>
<text x="18.9" y="0" font-size="18.5">(</text>
<text transform="translate(24.7,0) scale(0.905,1)" class="gs" font-size="18">ω</text>
<text x="36.3" y="0" font-size="18.5">)</text>
</g>
<path d="M71.61,175.00 V167.50 M101.52,175.00 V167.50 M131.43,175.00 V167.50 M161.33,175.00 V167.50 M191.24,175.00 V167.50 M221.15,175.00 V167.50 M251.06,175.00 V167.50 M280.97,175.00 V167.50 M310.88,175.00 V167.50 M340.78,175.00 V167.50 M370.69,175.00 V167.50 M41.70,161.53 H49.20 M41.70,148.07 H49.20 M41.70,134.60 H49.20 M41.70,121.14 H49.20 M41.70,107.67 H49.20" stroke="#000" stroke-width="1.90" fill="none"/>
<clipPath id="c1"><rect x="41.70" y="97.15" width="358.85" height="78.45"/></clipPath>
<g clip-path="url(#c1)" fill="none" stroke-width="2.10" stroke-linejoin="round">
<path d="M41.70,174.12 L42.06,174.07 L42.42,174.03 L42.78,173.98 L43.14,173.94 L43.50,173.90 L43.86,173.86 L44.22,173.82 L44.58,173.78 L44.94,173.74 L45.30,173.70 L45.66,173.67 L46.02,173.63 L46.38,173.60 L46.73,173.57 L47.09,173.54 L47.45,173.51 L47.81,173.48 L48.17,173.45 L48.53,173.43 L48.89,173.40 L49.25,173.38 L49.61,173.35 L49.97,173.33 L50.33,173.31 L50.69,173.29 L51.05,173.26 L51.41,173.25 L51.77,173.23 L52.13,173.21 L52.49,173.19 L52.85,173.17 L53.21,173.16 L53.57,173.14 L53.93,173.13 L54.29,173.11 L54.65,173.10 L55.01,173.09 L55.37,173.08 L55.73,173.06 L56.08,173.05 L56.44,173.04 L56.80,173.03 L57.16,173.02 L57.52,173.01 L57.88,173.00 L58.24,172.99 L58.60,172.99 L58.96,172.98 L59.32,172.97 L59.68,172.96 L60.04,172.96 L60.40,172.95 L60.76,172.94 L61.12,172.93 L61.48,172.93 L61.84,172.92 L62.20,172.92 L62.56,172.91 L62.92,172.90 L63.28,172.90 L63.64,172.89 L64.00,172.88 L64.36,172.88 L64.72,172.87 L65.08,172.87 L65.43,172.86 L65.79,172.85 L66.15,172.85 L66.51,172.84 L66.87,172.83 L67.23,172.83 L67.59,172.82 L67.95,172.81 L68.31,172.80 L68.67,172.80 L69.03,172.79 L69.39,172.78 L69.75,172.77 L70.11,172.76 L70.47,172.75 L70.83,172.74 L71.19,172.73 L71.55,172.72 L71.91,172.70 L72.27,172.69 L72.63,172.68 L72.99,172.67 L73.35,172.65 L73.71,172.64 L74.07,172.62 L74.43,172.60 L74.78,172.59 L75.14,172.57 L75.50,172.55 L75.86,172.53 L76.22,172.51 L76.58,172.49 L76.94,172.47 L77.30,172.45 L77.66,172.43 L78.02,172.40 L78.38,172.38 L78.74,172.35 L79.10,172.32 L79.46,172.30 L79.82,172.27 L80.18,172.24 L80.54,172.21 L80.90,172.17 L81.26,172.14 L81.62,172.11 L81.98,172.07 L82.34,172.03 L82.70,172.00 L83.06,171.96 L83.42,171.92 L83.78,171.87 L84.14,171.83 L84.49,171.79 L84.85,171.74 L85.21,171.69 L85.57,171.65 L85.93,171.60 L86.29,171.55 L86.65,171.49 L87.01,171.44 L87.37,171.38 L87.73,171.33 L88.09,171.27 L88.45,171.21 L88.81,171.15 L89.17,171.08 L89.53,171.02 L89.89,170.96 L90.25,170.89 L90.61,170.82 L90.97,170.75 L91.33,170.68 L91.69,170.61 L92.05,170.54 L92.41,170.46 L92.77,170.39 L93.13,170.31 L93.49,170.23 L93.84,170.15 L94.20,170.07 L94.56,169.99 L94.92,169.91 L95.28,169.83 L95.64,169.74 L96.00,169.65 L96.36,169.57 L96.72,169.48 L97.08,169.39 L97.44,169.30 L97.80,169.21 L98.16,169.12 L98.52,169.02 L98.88,168.93 L99.24,168.83 L99.60,168.74 L99.96,168.64 L100.32,168.54 L100.68,168.44 L101.04,168.35 L101.40,168.24 L101.76,168.14 L102.12,168.04 L102.48,167.94 L102.84,167.83 L103.19,167.73 L103.55,167.62 L103.91,167.52 L104.27,167.41 L104.63,167.30 L104.99,167.20 L105.35,167.09 L105.71,166.98 L106.07,166.87 L106.43,166.76 L106.79,166.64 L107.15,166.53 L107.51,166.42 L107.87,166.30 L108.23,166.19 L108.59,166.08 L108.95,165.96 L109.31,165.85 L109.67,165.73 L110.03,165.61 L110.39,165.49 L110.75,165.38 L111.11,165.26 L111.47,165.14 L111.83,165.02 L112.19,164.90 L112.54,164.78 L112.90,164.66 L113.26,164.54 L113.62,164.42 L113.98,164.30 L114.34,164.18 L114.70,164.06 L115.06,163.93 L115.42,163.81 L115.78,163.69 L116.14,163.56 L116.50,163.44 L116.86,163.32 L117.22,163.19 L117.58,163.07 L117.94,162.95 L118.30,162.82 L118.66,162.70 L119.02,162.57 L119.38,162.45 L119.74,162.32 L120.10,162.20 L120.46,162.08 L120.82,161.95 L121.18,161.83 L121.54,161.70 L121.90,161.58 L122.25,161.45 L122.61,161.33 L122.97,161.20 L123.33,161.08 L123.69,160.95 L124.05,160.83 L124.41,160.70 L124.77,160.58 L125.13,160.45 L125.49,160.33 L125.85,160.21 L126.21,160.08 L126.57,159.96 L126.93,159.84 L127.29,159.71 L127.65,159.59 L128.01,159.47 L128.37,159.35 L128.73,159.22 L129.09,159.10 L129.45,158.98 L129.81,158.86 L130.17,158.74 L130.53,158.62 L130.89,158.50 L131.25,158.38 L131.60,158.26 L131.96,158.14 L132.32,158.02 L132.68,157.90 L133.04,157.79 L133.40,157.67 L133.76,157.55 L134.12,157.44 L134.48,157.32 L134.84,157.21 L135.20,157.09 L135.56,156.98 L135.92,156.86 L136.28,156.75 L136.64,156.64 L137.00,156.52 L137.36,156.41 L137.72,156.30 L138.08,156.19 L138.44,156.08 L138.80,155.97 L139.16,155.86 L139.52,155.75 L139.88,155.64 L140.24,155.53 L140.60,155.43 L140.95,155.32 L141.31,155.21 L141.67,155.11 L142.03,155.00 L142.39,154.90 L142.75,154.79 L143.11,154.69 L143.47,154.58 L143.83,154.48 L144.19,154.38 L144.55,154.28 L144.91,154.18 L145.27,154.08 L145.63,153.98 L145.99,153.88 L146.35,153.78 L146.71,153.68 L147.07,153.58 L147.43,153.48 L147.79,153.39 L148.15,153.29 L148.51,153.20 L148.87,153.10 L149.23,153.01 L149.59,152.91 L149.95,152.82 L150.31,152.73 L150.66,152.64 L151.02,152.55 L151.38,152.46 L151.74,152.37 L152.10,152.28 L152.46,152.19 L152.82,152.10 L153.18,152.01 L153.54,151.93 L153.90,151.84 L154.26,151.75 L154.62,151.67 L154.98,151.59 L155.34,151.50 L155.70,151.42 L156.06,151.34 L156.42,151.26 L156.78,151.17 L157.14,151.09 L157.50,151.01 L157.86,150.93 L158.22,150.85 L158.58,150.77 L158.94,150.69 L159.30,150.61 L159.66,150.53 L160.01,150.45 L160.37,150.37 L160.73,150.29 L161.09,150.21 L161.45,150.13 L161.81,150.05 L162.17,149.97 L162.53,149.89 L162.89,149.81 L163.25,149.73 L163.61,149.65 L163.97,149.56 L164.33,149.48 L164.69,149.40 L165.05,149.31 L165.41,149.23 L165.77,149.15 L166.13,149.06 L166.49,148.97 L166.85,148.89 L167.21,148.80 L167.57,148.71 L167.93,148.62 L168.29,148.53 L168.65,148.44 L169.01,148.35 L169.36,148.25 L169.72,148.16 L170.08,148.06 L170.44,147.97 L170.80,147.87 L171.16,147.77 L171.52,147.67 L171.88,147.57 L172.24,147.46 L172.60,147.36 L172.96,147.25 L173.32,147.14 L173.68,147.03 L174.04,146.92 L174.40,146.81 L174.76,146.70 L175.12,146.58 L175.48,146.46 L175.84,146.34 L176.20,146.22 L176.56,146.10 L176.92,145.97 L177.28,145.85 L177.64,145.72 L178.00,145.59 L178.36,145.46 L178.71,145.32 L179.07,145.19 L179.43,145.05 L179.79,144.91 L180.15,144.77 L180.51,144.63 L180.87,144.48 L181.23,144.34 L181.59,144.19 L181.95,144.05 L182.31,143.90 L182.67,143.75 L183.03,143.60 L183.39,143.45 L183.75,143.29 L184.11,143.14 L184.47,142.98 L184.83,142.83 L185.19,142.67 L185.55,142.51 L185.91,142.35 L186.27,142.19 L186.63,142.03 L186.99,141.87 L187.35,141.71 L187.71,141.55 L188.07,141.38 L188.42,141.22 L188.78,141.06 L189.14,140.89 L189.50,140.73 L189.86,140.56 L190.22,140.40 L190.58,140.23 L190.94,140.07 L191.30,139.90 L191.66,139.73 L192.02,139.57 L192.38,139.40 L192.74,139.23 L193.10,139.07 L193.46,138.90 L193.82,138.74 L194.18,138.57 L194.54,138.40 L194.90,138.24 L195.26,138.07 L195.62,137.91 L195.98,137.74 L196.34,137.58 L196.70,137.42 L197.06,137.25 L197.42,137.09 L197.77,136.93 L198.13,136.77 L198.49,136.61 L198.85,136.45 L199.21,136.29 L199.57,136.13 L199.93,135.97 L200.29,135.82 L200.65,135.66 L201.01,135.51 L201.37,135.36 L201.73,135.20 L202.09,135.05 L202.45,134.90 L202.81,134.75 L203.17,134.61 L203.53,134.46 L203.89,134.32 L204.25,134.17 L204.61,134.03 L204.97,133.89 L205.33,133.75 L205.69,133.61 L206.05,133.48 L206.41,133.34 L206.77,133.21 L207.12,133.08 L207.48,132.95 L207.84,132.82 L208.20,132.70 L208.56,132.58 L208.92,132.45 L209.28,132.34 L209.64,132.22 L210.00,132.10 L210.36,132.01 L210.72,131.92 L211.08,131.82 L211.44,131.73 L211.80,131.63 L212.16,131.54 L212.52,131.45 L212.88,131.35 L213.24,131.26 L213.60,131.17 L213.96,131.07 L214.32,130.98 L214.68,130.89 L215.04,130.79 L215.40,130.70 L215.76,130.60 L216.12,130.51 L216.47,130.42 L216.83,130.32 L217.19,130.23 L217.55,130.14 L217.91,130.04 L218.27,129.95 L218.63,129.86 L218.99,129.76 L219.35,129.67 L219.71,129.57 L220.07,129.48 L220.43,129.39 L220.79,129.29 L221.15,129.20 L221.51,129.29 L221.87,129.39 L222.23,129.48 L222.59,129.57 L222.95,129.67 L223.31,129.76 L223.67,129.86 L224.03,129.95 L224.39,130.04 L224.75,130.14 L225.11,130.23 L225.47,130.32 L225.83,130.42 L226.18,130.51 L226.54,130.60 L226.90,130.70 L227.26,130.79 L227.62,130.89 L227.98,130.98 L228.34,131.07 L228.70,131.17 L229.06,131.26 L229.42,131.35 L229.78,131.45 L230.14,131.54 L230.50,131.63 L230.86,131.73 L231.22,131.82 L231.58,131.92 L231.94,132.01 L232.30,132.10 L232.66,132.22 L233.02,132.34 L233.38,132.45 L233.74,132.58 L234.10,132.70 L234.46,132.82 L234.82,132.95 L235.18,133.08 L235.53,133.21 L235.89,133.34 L236.25,133.48 L236.61,133.61 L236.97,133.75 L237.33,133.89 L237.69,134.03 L238.05,134.17 L238.41,134.32 L238.77,134.46 L239.13,134.61 L239.49,134.75 L239.85,134.90 L240.21,135.05 L240.57,135.20 L240.93,135.36 L241.29,135.51 L241.65,135.66 L242.01,135.82 L242.37,135.97 L242.73,136.13 L243.09,136.29 L243.45,136.45 L243.81,136.61 L244.17,136.77 L244.53,136.93 L244.88,137.09 L245.24,137.25 L245.60,137.42 L245.96,137.58 L246.32,137.74 L246.68,137.91 L247.04,138.07 L247.40,138.24 L247.76,138.40 L248.12,138.57 L248.48,138.74 L248.84,138.90 L249.20,139.07 L249.56,139.23 L249.92,139.40 L250.28,139.57 L250.64,139.73 L251.00,139.90 L251.36,140.07 L251.72,140.23 L252.08,140.40 L252.44,140.56 L252.80,140.73 L253.16,140.89 L253.52,141.06 L253.88,141.22 L254.23,141.38 L254.59,141.55 L254.95,141.71 L255.31,141.87 L255.67,142.03 L256.03,142.19 L256.39,142.35 L256.75,142.51 L257.11,142.67 L257.47,142.83 L257.83,142.98 L258.19,143.14 L258.55,143.29 L258.91,143.45 L259.27,143.60 L259.63,143.75 L259.99,143.90 L260.35,144.05 L260.71,144.19 L261.07,144.34 L261.43,144.48 L261.79,144.63 L262.15,144.77 L262.51,144.91 L262.87,145.05 L263.23,145.19 L263.59,145.32 L263.94,145.46 L264.30,145.59 L264.66,145.72 L265.02,145.85 L265.38,145.97 L265.74,146.10 L266.10,146.22 L266.46,146.34 L266.82,146.46 L267.18,146.58 L267.54,146.70 L267.90,146.81 L268.26,146.92 L268.62,147.03 L268.98,147.14 L269.34,147.25 L269.70,147.36 L270.06,147.46 L270.42,147.57 L270.78,147.67 L271.14,147.77 L271.50,147.87 L271.86,147.97 L272.22,148.06 L272.58,148.16 L272.94,148.25 L273.29,148.35 L273.65,148.44 L274.01,148.53 L274.37,148.62 L274.73,148.71 L275.09,148.80 L275.45,148.89 L275.81,148.97 L276.17,149.06 L276.53,149.15 L276.89,149.23 L277.25,149.31 L277.61,149.40 L277.97,149.48 L278.33,149.56 L278.69,149.65 L279.05,149.73 L279.41,149.81 L279.77,149.89 L280.13,149.97 L280.49,150.05 L280.85,150.13 L281.21,150.21 L281.57,150.29 L281.93,150.37 L282.29,150.45 L282.64,150.53 L283.00,150.61 L283.36,150.69 L283.72,150.77 L284.08,150.85 L284.44,150.93 L284.80,151.01 L285.16,151.09 L285.52,151.17 L285.88,151.26 L286.24,151.34 L286.60,151.42 L286.96,151.50 L287.32,151.59 L287.68,151.67 L288.04,151.75 L288.40,151.84 L288.76,151.93 L289.12,152.01 L289.48,152.10 L289.84,152.19 L290.20,152.28 L290.56,152.37 L290.92,152.46 L291.28,152.55 L291.64,152.64 L291.99,152.73 L292.35,152.82 L292.71,152.91 L293.07,153.01 L293.43,153.10 L293.79,153.20 L294.15,153.29 L294.51,153.39 L294.87,153.48 L295.23,153.58 L295.59,153.68 L295.95,153.78 L296.31,153.88 L296.67,153.98 L297.03,154.08 L297.39,154.18 L297.75,154.28 L298.11,154.38 L298.47,154.48 L298.83,154.58 L299.19,154.69 L299.55,154.79 L299.91,154.90 L300.27,155.00 L300.63,155.11 L300.99,155.21 L301.35,155.32 L301.70,155.43 L302.06,155.53 L302.42,155.64 L302.78,155.75 L303.14,155.86 L303.50,155.97 L303.86,156.08 L304.22,156.19 L304.58,156.30 L304.94,156.41 L305.30,156.52 L305.66,156.64 L306.02,156.75 L306.38,156.86 L306.74,156.98 L307.10,157.09 L307.46,157.21 L307.82,157.32 L308.18,157.44 L308.54,157.55 L308.90,157.67 L309.26,157.79 L309.62,157.90 L309.98,158.02 L310.34,158.14 L310.70,158.26 L311.05,158.38 L311.41,158.50 L311.77,158.62 L312.13,158.74 L312.49,158.86 L312.85,158.98 L313.21,159.10 L313.57,159.22 L313.93,159.35 L314.29,159.47 L314.65,159.59 L315.01,159.71 L315.37,159.84 L315.73,159.96 L316.09,160.08 L316.45,160.21 L316.81,160.33 L317.17,160.45 L317.53,160.58 L317.89,160.70 L318.25,160.83 L318.61,160.95 L318.97,161.08 L319.33,161.20 L319.69,161.33 L320.05,161.45 L320.40,161.58 L320.76,161.70 L321.12,161.83 L321.48,161.95 L321.84,162.08 L322.20,162.20 L322.56,162.32 L322.92,162.45 L323.28,162.57 L323.64,162.70 L324.00,162.82 L324.36,162.95 L324.72,163.07 L325.08,163.19 L325.44,163.32 L325.80,163.44 L326.16,163.56 L326.52,163.69 L326.88,163.81 L327.24,163.93 L327.60,164.06 L327.96,164.18 L328.32,164.30 L328.68,164.42 L329.04,164.54 L329.40,164.66 L329.76,164.78 L330.11,164.90 L330.47,165.02 L330.83,165.14 L331.19,165.26 L331.55,165.38 L331.91,165.49 L332.27,165.61 L332.63,165.73 L332.99,165.85 L333.35,165.96 L333.71,166.08 L334.07,166.19 L334.43,166.30 L334.79,166.42 L335.15,166.53 L335.51,166.64 L335.87,166.76 L336.23,166.87 L336.59,166.98 L336.95,167.09 L337.31,167.20 L337.67,167.30 L338.03,167.41 L338.39,167.52 L338.75,167.62 L339.11,167.73 L339.46,167.83 L339.82,167.94 L340.18,168.04 L340.54,168.14 L340.90,168.24 L341.26,168.35 L341.62,168.44 L341.98,168.54 L342.34,168.64 L342.70,168.74 L343.06,168.83 L343.42,168.93 L343.78,169.02 L344.14,169.12 L344.50,169.21 L344.86,169.30 L345.22,169.39 L345.58,169.48 L345.94,169.57 L346.30,169.65 L346.66,169.74 L347.02,169.83 L347.38,169.91 L347.74,169.99 L348.10,170.07 L348.46,170.15 L348.81,170.23 L349.17,170.31 L349.53,170.39 L349.89,170.46 L350.25,170.54 L350.61,170.61 L350.97,170.68 L351.33,170.75 L351.69,170.82 L352.05,170.89 L352.41,170.96 L352.77,171.02 L353.13,171.08 L353.49,171.15 L353.85,171.21 L354.21,171.27 L354.57,171.33 L354.93,171.38 L355.29,171.44 L355.65,171.49 L356.01,171.55 L356.37,171.60 L356.73,171.65 L357.09,171.69 L357.45,171.74 L357.81,171.79 L358.16,171.83 L358.52,171.87 L358.88,171.92 L359.24,171.96 L359.60,172.00 L359.96,172.03 L360.32,172.07 L360.68,172.11 L361.04,172.14 L361.40,172.17 L361.76,172.21 L362.12,172.24 L362.48,172.27 L362.84,172.30 L363.20,172.32 L363.56,172.35 L363.92,172.38 L364.28,172.40 L364.64,172.43 L365.00,172.45 L365.36,172.47 L365.72,172.49 L366.08,172.51 L366.44,172.53 L366.80,172.55 L367.16,172.57 L367.52,172.59 L367.87,172.60 L368.23,172.62 L368.59,172.64 L368.95,172.65 L369.31,172.67 L369.67,172.68 L370.03,172.69 L370.39,172.70 L370.75,172.72 L371.11,172.73 L371.47,172.74 L371.83,172.75 L372.19,172.76 L372.55,172.77 L372.91,172.78 L373.27,172.79 L373.63,172.80 L373.99,172.80 L374.35,172.81 L374.71,172.82 L375.07,172.83 L375.43,172.83 L375.79,172.84 L376.15,172.85 L376.51,172.85 L376.87,172.86 L377.22,172.87 L377.58,172.87 L377.94,172.88 L378.30,172.88 L378.66,172.89 L379.02,172.90 L379.38,172.90 L379.74,172.91 L380.10,172.92 L380.46,172.92 L380.82,172.93 L381.18,172.93 L381.54,172.94 L381.90,172.95 L382.26,172.96 L382.62,172.96 L382.98,172.97 L383.34,172.98 L383.70,172.99 L384.06,172.99 L384.42,173.00 L384.78,173.01 L385.14,173.02 L385.50,173.03 L385.86,173.04 L386.22,173.05 L386.57,173.06 L386.93,173.08 L387.29,173.09 L387.65,173.10 L388.01,173.11 L388.37,173.13 L388.73,173.14 L389.09,173.16 L389.45,173.17 L389.81,173.19 L390.17,173.21 L390.53,173.23 L390.89,173.25 L391.25,173.26 L391.61,173.29 L391.97,173.31 L392.33,173.33 L392.69,173.35 L393.05,173.38 L393.41,173.40 L393.77,173.43 L394.13,173.45 L394.49,173.48 L394.85,173.51 L395.21,173.54 L395.57,173.57 L395.92,173.60 L396.28,173.63 L396.64,173.67 L397.00,173.70 L397.36,173.74 L397.72,173.78 L398.08,173.82 L398.44,173.86 L398.80,173.90 L399.16,173.94 L399.52,173.98 L399.88,174.03 L400.24,174.07 L400.60,174.12" stroke="#ff0000"/>
<path d="M41.70,173.78 L42.06,173.78 L42.42,173.78 L42.78,173.78 L43.14,173.78 L43.50,173.78 L43.86,173.78 L44.22,173.78 L44.58,173.78 L44.94,173.78 L45.30,173.78 L45.66,173.78 L46.02,173.79 L46.38,173.79 L46.73,173.79 L47.09,173.79 L47.45,173.79 L47.81,173.79 L48.17,173.79 L48.53,173.79 L48.89,173.79 L49.25,173.79 L49.61,173.79 L49.97,173.79 L50.33,173.79 L50.69,173.80 L51.05,173.80 L51.41,173.80 L51.77,173.80 L52.13,173.80 L52.49,173.80 L52.85,173.80 L53.21,173.80 L53.57,173.80 L53.93,173.80 L54.29,173.80 L54.65,173.80 L55.01,173.80 L55.37,173.80 L55.73,173.80 L56.08,173.80 L56.44,173.80 L56.80,173.79 L57.16,173.79 L57.52,173.79 L57.88,173.79 L58.24,173.79 L58.60,173.79 L58.96,173.78 L59.32,173.78 L59.68,173.78 L60.04,173.78 L60.40,173.77 L60.76,173.77 L61.12,173.77 L61.48,173.76 L61.84,173.76 L62.20,173.76 L62.56,173.75 L62.92,173.75 L63.28,173.74 L63.64,173.73 L64.00,173.73 L64.36,173.72 L64.72,173.72 L65.08,173.71 L65.43,173.70 L65.79,173.69 L66.15,173.69 L66.51,173.68 L66.87,173.67 L67.23,173.66 L67.59,173.65 L67.95,173.64 L68.31,173.63 L68.67,173.62 L69.03,173.61 L69.39,173.60 L69.75,173.59 L70.11,173.57 L70.47,173.56 L70.83,173.55 L71.19,173.53 L71.55,173.52 L71.91,173.51 L72.27,173.49 L72.63,173.47 L72.99,173.46 L73.35,173.44 L73.71,173.42 L74.07,173.41 L74.43,173.39 L74.78,173.37 L75.14,173.35 L75.50,173.33 L75.86,173.31 L76.22,173.29 L76.58,173.27 L76.94,173.25 L77.30,173.22 L77.66,173.20 L78.02,173.18 L78.38,173.15 L78.74,173.13 L79.10,173.10 L79.46,173.07 L79.82,173.05 L80.18,173.02 L80.54,172.99 L80.90,172.96 L81.26,172.93 L81.62,172.90 L81.98,172.87 L82.34,172.84 L82.70,172.80 L83.06,172.77 L83.42,172.74 L83.78,172.70 L84.14,172.67 L84.49,172.63 L84.85,172.59 L85.21,172.56 L85.57,172.52 L85.93,172.48 L86.29,172.44 L86.65,172.40 L87.01,172.36 L87.37,172.31 L87.73,172.27 L88.09,172.23 L88.45,172.18 L88.81,172.14 L89.17,172.09 L89.53,172.04 L89.89,171.99 L90.25,171.94 L90.61,171.89 L90.97,171.84 L91.33,171.79 L91.69,171.74 L92.05,171.68 L92.41,171.63 L92.77,171.57 L93.13,171.52 L93.49,171.46 L93.84,171.40 L94.20,171.34 L94.56,171.28 L94.92,171.22 L95.28,171.16 L95.64,171.10 L96.00,171.03 L96.36,170.97 L96.72,170.90 L97.08,170.83 L97.44,170.77 L97.80,170.70 L98.16,170.63 L98.52,170.56 L98.88,170.48 L99.24,170.41 L99.60,170.34 L99.96,170.26 L100.32,170.18 L100.68,170.11 L101.04,170.03 L101.40,169.95 L101.76,169.87 L102.12,169.79 L102.48,169.70 L102.84,169.62 L103.19,169.53 L103.55,169.45 L103.91,169.36 L104.27,169.27 L104.63,169.18 L104.99,169.09 L105.35,169.00 L105.71,168.90 L106.07,168.81 L106.43,168.71 L106.79,168.61 L107.15,168.52 L107.51,168.42 L107.87,168.32 L108.23,168.21 L108.59,168.11 L108.95,168.01 L109.31,167.90 L109.67,167.79 L110.03,167.68 L110.39,167.57 L110.75,167.46 L111.11,167.35 L111.47,167.24 L111.83,167.12 L112.19,167.01 L112.54,166.89 L112.90,166.77 L113.26,166.65 L113.62,166.53 L113.98,166.40 L114.34,166.28 L114.70,166.15 L115.06,166.03 L115.42,165.90 L115.78,165.77 L116.14,165.64 L116.50,165.50 L116.86,165.37 L117.22,165.23 L117.58,165.10 L117.94,164.96 L118.30,164.82 L118.66,164.68 L119.02,164.53 L119.38,164.39 L119.74,164.24 L120.10,164.10 L120.46,163.95 L120.82,163.80 L121.18,163.64 L121.54,163.49 L121.90,163.34 L122.25,163.18 L122.61,163.02 L122.97,162.86 L123.33,162.70 L123.69,162.54 L124.05,162.37 L124.41,162.21 L124.77,162.04 L125.13,161.87 L125.49,161.70 L125.85,161.53 L126.21,161.35 L126.57,161.18 L126.93,161.00 L127.29,160.82 L127.65,160.64 L128.01,160.46 L128.37,160.28 L128.73,160.09 L129.09,159.90 L129.45,159.71 L129.81,159.52 L130.17,159.33 L130.53,159.14 L130.89,158.94 L131.25,158.74 L131.60,158.54 L131.96,158.34 L132.32,158.14 L132.68,157.94 L133.04,157.73 L133.40,157.52 L133.76,157.31 L134.12,157.10 L134.48,156.89 L134.84,156.68 L135.20,156.46 L135.56,156.24 L135.92,156.03 L136.28,155.81 L136.64,155.59 L137.00,155.36 L137.36,155.14 L137.72,154.91 L138.08,154.69 L138.44,154.46 L138.80,154.23 L139.16,154.00 L139.52,153.77 L139.88,153.54 L140.24,153.30 L140.60,153.07 L140.95,152.83 L141.31,152.60 L141.67,152.36 L142.03,152.12 L142.39,151.88 L142.75,151.64 L143.11,151.40 L143.47,151.16 L143.83,150.92 L144.19,150.67 L144.55,150.43 L144.91,150.18 L145.27,149.94 L145.63,149.69 L145.99,149.44 L146.35,149.20 L146.71,148.95 L147.07,148.70 L147.43,148.45 L147.79,148.20 L148.15,147.95 L148.51,147.70 L148.87,147.45 L149.23,147.19 L149.59,146.94 L149.95,146.69 L150.31,146.44 L150.66,146.18 L151.02,145.93 L151.38,145.68 L151.74,145.42 L152.10,145.17 L152.46,144.91 L152.82,144.66 L153.18,144.41 L153.54,144.15 L153.90,143.90 L154.26,143.64 L154.62,143.39 L154.98,143.13 L155.34,142.88 L155.70,142.62 L156.06,142.37 L156.42,142.12 L156.78,141.86 L157.14,141.61 L157.50,141.36 L157.86,141.10 L158.22,140.85 L158.58,140.60 L158.94,140.34 L159.30,140.09 L159.66,139.84 L160.01,139.59 L160.37,139.34 L160.73,139.09 L161.09,138.84 L161.45,138.59 L161.81,138.34 L162.17,138.10 L162.53,137.85 L162.89,137.60 L163.25,137.36 L163.61,137.11 L163.97,136.87 L164.33,136.62 L164.69,136.38 L165.05,136.14 L165.41,135.90 L165.77,135.66 L166.13,135.42 L166.49,135.18 L166.85,134.94 L167.21,134.71 L167.57,134.47 L167.93,134.24 L168.29,134.00 L168.65,133.77 L169.01,133.54 L169.36,133.31 L169.72,133.08 L170.08,132.85 L170.44,132.63 L170.80,132.40 L171.16,132.18 L171.52,131.96 L171.88,131.73 L172.24,131.51 L172.60,131.30 L172.96,131.08 L173.32,130.86 L173.68,130.65 L174.04,130.44 L174.40,130.23 L174.76,130.02 L175.12,129.81 L175.48,129.60 L175.84,129.40 L176.20,129.20 L176.56,129.00 L176.92,128.80 L177.28,128.60 L177.64,128.40 L178.00,128.21 L178.36,128.02 L178.71,127.82 L179.07,127.63 L179.43,127.44 L179.79,127.25 L180.15,127.06 L180.51,126.87 L180.87,126.68 L181.23,126.49 L181.59,126.30 L181.95,126.11 L182.31,125.92 L182.67,125.73 L183.03,125.54 L183.39,125.34 L183.75,125.15 L184.11,124.95 L184.47,124.76 L184.83,124.56 L185.19,124.36 L185.55,124.16 L185.91,123.95 L186.27,123.75 L186.63,123.54 L186.99,123.33 L187.35,123.12 L187.71,122.90 L188.07,122.68 L188.42,122.46 L188.78,122.24 L189.14,122.01 L189.50,121.78 L189.86,121.55 L190.22,121.32 L190.58,121.08 L190.94,120.84 L191.30,120.60 L191.66,120.36 L192.02,120.12 L192.38,119.87 L192.74,119.62 L193.10,119.37 L193.46,119.12 L193.82,118.87 L194.18,118.61 L194.54,118.36 L194.90,118.10 L195.26,117.84 L195.62,117.58 L195.98,117.32 L196.34,117.06 L196.70,116.80 L197.06,116.53 L197.42,116.27 L197.77,116.00 L198.13,115.74 L198.49,115.47 L198.85,115.21 L199.21,114.94 L199.57,114.67 L199.93,114.40 L200.29,114.14 L200.65,113.87 L201.01,113.60 L201.37,113.34 L201.73,113.07 L202.09,112.80 L202.45,112.54 L202.81,112.27 L203.17,112.01 L203.53,111.75 L203.89,111.49 L204.25,111.23 L204.61,110.97 L204.97,110.71 L205.33,110.45 L205.69,110.20 L206.05,109.95 L206.41,109.70 L206.77,109.45 L207.12,109.20 L207.48,108.95 L207.84,108.71 L208.20,108.47 L208.56,108.24 L208.92,108.00 L209.28,107.77 L209.64,107.54 L210.00,107.31 L210.36,107.09 L210.72,106.87 L211.08,106.65 L211.44,106.44 L211.80,106.23 L212.16,106.03 L212.52,105.82 L212.88,105.63 L213.24,105.43 L213.60,105.24 L213.96,105.06 L214.32,104.87 L214.68,104.70 L215.04,104.52 L215.40,104.39 L215.76,104.26 L216.12,104.13 L216.47,104.00 L216.83,103.87 L217.19,103.74 L217.55,103.61 L217.91,103.48 L218.27,103.35 L218.63,103.22 L218.99,103.08 L219.35,102.95 L219.71,102.82 L220.07,102.69 L220.43,102.56 L220.79,102.43 L221.15,102.30 L221.51,102.43 L221.87,102.56 L222.23,102.69 L222.59,102.82 L222.95,102.95 L223.31,103.08 L223.67,103.22 L224.03,103.35 L224.39,103.48 L224.75,103.61 L225.11,103.74 L225.47,103.87 L225.83,104.00 L226.18,104.13 L226.54,104.26 L226.90,104.39 L227.26,104.52 L227.62,104.70 L227.98,104.87 L228.34,105.06 L228.70,105.24 L229.06,105.43 L229.42,105.63 L229.78,105.82 L230.14,106.03 L230.50,106.23 L230.86,106.44 L231.22,106.65 L231.58,106.87 L231.94,107.09 L232.30,107.31 L232.66,107.54 L233.02,107.77 L233.38,108.00 L233.74,108.24 L234.10,108.47 L234.46,108.71 L234.82,108.95 L235.18,109.20 L235.53,109.45 L235.89,109.70 L236.25,109.95 L236.61,110.20 L236.97,110.45 L237.33,110.71 L237.69,110.97 L238.05,111.23 L238.41,111.49 L238.77,111.75 L239.13,112.01 L239.49,112.27 L239.85,112.54 L240.21,112.80 L240.57,113.07 L240.93,113.34 L241.29,113.60 L241.65,113.87 L242.01,114.14 L242.37,114.40 L242.73,114.67 L243.09,114.94 L243.45,115.21 L243.81,115.47 L244.17,115.74 L244.53,116.00 L244.88,116.27 L245.24,116.53 L245.60,116.80 L245.96,117.06 L246.32,117.32 L246.68,117.58 L247.04,117.84 L247.40,118.10 L247.76,118.36 L248.12,118.61 L248.48,118.87 L248.84,119.12 L249.20,119.37 L249.56,119.62 L249.92,119.87 L250.28,120.12 L250.64,120.36 L251.00,120.60 L251.36,120.84 L251.72,121.08 L252.08,121.32 L252.44,121.55 L252.80,121.78 L253.16,122.01 L253.52,122.24 L253.88,122.46 L254.23,122.68 L254.59,122.90 L254.95,123.12 L255.31,123.33 L255.67,123.54 L256.03,123.75 L256.39,123.95 L256.75,124.16 L257.11,124.36 L257.47,124.56 L257.83,124.76 L258.19,124.95 L258.55,125.15 L258.91,125.34 L259.27,125.54 L259.63,125.73 L259.99,125.92 L260.35,126.11 L260.71,126.30 L261.07,126.49 L261.43,126.68 L261.79,126.87 L262.15,127.06 L262.51,127.25 L262.87,127.44 L263.23,127.63 L263.59,127.82 L263.94,128.02 L264.30,128.21 L264.66,128.40 L265.02,128.60 L265.38,128.80 L265.74,129.00 L266.10,129.20 L266.46,129.40 L266.82,129.60 L267.18,129.81 L267.54,130.02 L267.90,130.23 L268.26,130.44 L268.62,130.65 L268.98,130.86 L269.34,131.08 L269.70,131.30 L270.06,131.51 L270.42,131.73 L270.78,131.96 L271.14,132.18 L271.50,132.40 L271.86,132.63 L272.22,132.85 L272.58,133.08 L272.94,133.31 L273.29,133.54 L273.65,133.77 L274.01,134.00 L274.37,134.24 L274.73,134.47 L275.09,134.71 L275.45,134.94 L275.81,135.18 L276.17,135.42 L276.53,135.66 L276.89,135.90 L277.25,136.14 L277.61,136.38 L277.97,136.62 L278.33,136.87 L278.69,137.11 L279.05,137.36 L279.41,137.60 L279.77,137.85 L280.13,138.10 L280.49,138.34 L280.85,138.59 L281.21,138.84 L281.57,139.09 L281.93,139.34 L282.29,139.59 L282.64,139.84 L283.00,140.09 L283.36,140.34 L283.72,140.60 L284.08,140.85 L284.44,141.10 L284.80,141.36 L285.16,141.61 L285.52,141.86 L285.88,142.12 L286.24,142.37 L286.60,142.62 L286.96,142.88 L287.32,143.13 L287.68,143.39 L288.04,143.64 L288.40,143.90 L288.76,144.15 L289.12,144.41 L289.48,144.66 L289.84,144.91 L290.20,145.17 L290.56,145.42 L290.92,145.68 L291.28,145.93 L291.64,146.18 L291.99,146.44 L292.35,146.69 L292.71,146.94 L293.07,147.19 L293.43,147.45 L293.79,147.70 L294.15,147.95 L294.51,148.20 L294.87,148.45 L295.23,148.70 L295.59,148.95 L295.95,149.20 L296.31,149.44 L296.67,149.69 L297.03,149.94 L297.39,150.18 L297.75,150.43 L298.11,150.67 L298.47,150.92 L298.83,151.16 L299.19,151.40 L299.55,151.64 L299.91,151.88 L300.27,152.12 L300.63,152.36 L300.99,152.60 L301.35,152.83 L301.70,153.07 L302.06,153.30 L302.42,153.54 L302.78,153.77 L303.14,154.00 L303.50,154.23 L303.86,154.46 L304.22,154.69 L304.58,154.91 L304.94,155.14 L305.30,155.36 L305.66,155.59 L306.02,155.81 L306.38,156.03 L306.74,156.24 L307.10,156.46 L307.46,156.68 L307.82,156.89 L308.18,157.10 L308.54,157.31 L308.90,157.52 L309.26,157.73 L309.62,157.94 L309.98,158.14 L310.34,158.34 L310.70,158.54 L311.05,158.74 L311.41,158.94 L311.77,159.14 L312.13,159.33 L312.49,159.52 L312.85,159.71 L313.21,159.90 L313.57,160.09 L313.93,160.28 L314.29,160.46 L314.65,160.64 L315.01,160.82 L315.37,161.00 L315.73,161.18 L316.09,161.35 L316.45,161.53 L316.81,161.70 L317.17,161.87 L317.53,162.04 L317.89,162.21 L318.25,162.37 L318.61,162.54 L318.97,162.70 L319.33,162.86 L319.69,163.02 L320.05,163.18 L320.40,163.34 L320.76,163.49 L321.12,163.64 L321.48,163.80 L321.84,163.95 L322.20,164.10 L322.56,164.24 L322.92,164.39 L323.28,164.53 L323.64,164.68 L324.00,164.82 L324.36,164.96 L324.72,165.10 L325.08,165.23 L325.44,165.37 L325.80,165.50 L326.16,165.64 L326.52,165.77 L326.88,165.90 L327.24,166.03 L327.60,166.15 L327.96,166.28 L328.32,166.40 L328.68,166.53 L329.04,166.65 L329.40,166.77 L329.76,166.89 L330.11,167.01 L330.47,167.12 L330.83,167.24 L331.19,167.35 L331.55,167.46 L331.91,167.57 L332.27,167.68 L332.63,167.79 L332.99,167.90 L333.35,168.01 L333.71,168.11 L334.07,168.21 L334.43,168.32 L334.79,168.42 L335.15,168.52 L335.51,168.61 L335.87,168.71 L336.23,168.81 L336.59,168.90 L336.95,169.00 L337.31,169.09 L337.67,169.18 L338.03,169.27 L338.39,169.36 L338.75,169.45 L339.11,169.53 L339.46,169.62 L339.82,169.70 L340.18,169.79 L340.54,169.87 L340.90,169.95 L341.26,170.03 L341.62,170.11 L341.98,170.18 L342.34,170.26 L342.70,170.34 L343.06,170.41 L343.42,170.48 L343.78,170.56 L344.14,170.63 L344.50,170.70 L344.86,170.77 L345.22,170.83 L345.58,170.90 L345.94,170.97 L346.30,171.03 L346.66,171.10 L347.02,171.16 L347.38,171.22 L347.74,171.28 L348.10,171.34 L348.46,171.40 L348.81,171.46 L349.17,171.52 L349.53,171.57 L349.89,171.63 L350.25,171.68 L350.61,171.74 L350.97,171.79 L351.33,171.84 L351.69,171.89 L352.05,171.94 L352.41,171.99 L352.77,172.04 L353.13,172.09 L353.49,172.14 L353.85,172.18 L354.21,172.23 L354.57,172.27 L354.93,172.31 L355.29,172.36 L355.65,172.40 L356.01,172.44 L356.37,172.48 L356.73,172.52 L357.09,172.56 L357.45,172.59 L357.81,172.63 L358.16,172.67 L358.52,172.70 L358.88,172.74 L359.24,172.77 L359.60,172.80 L359.96,172.84 L360.32,172.87 L360.68,172.90 L361.04,172.93 L361.40,172.96 L361.76,172.99 L362.12,173.02 L362.48,173.05 L362.84,173.07 L363.20,173.10 L363.56,173.13 L363.92,173.15 L364.28,173.18 L364.64,173.20 L365.00,173.22 L365.36,173.25 L365.72,173.27 L366.08,173.29 L366.44,173.31 L366.80,173.33 L367.16,173.35 L367.52,173.37 L367.87,173.39 L368.23,173.41 L368.59,173.42 L368.95,173.44 L369.31,173.46 L369.67,173.47 L370.03,173.49 L370.39,173.51 L370.75,173.52 L371.11,173.53 L371.47,173.55 L371.83,173.56 L372.19,173.57 L372.55,173.59 L372.91,173.60 L373.27,173.61 L373.63,173.62 L373.99,173.63 L374.35,173.64 L374.71,173.65 L375.07,173.66 L375.43,173.67 L375.79,173.68 L376.15,173.69 L376.51,173.69 L376.87,173.70 L377.22,173.71 L377.58,173.72 L377.94,173.72 L378.30,173.73 L378.66,173.73 L379.02,173.74 L379.38,173.75 L379.74,173.75 L380.10,173.76 L380.46,173.76 L380.82,173.76 L381.18,173.77 L381.54,173.77 L381.90,173.77 L382.26,173.78 L382.62,173.78 L382.98,173.78 L383.34,173.78 L383.70,173.79 L384.06,173.79 L384.42,173.79 L384.78,173.79 L385.14,173.79 L385.50,173.79 L385.86,173.80 L386.22,173.80 L386.57,173.80 L386.93,173.80 L387.29,173.80 L387.65,173.80 L388.01,173.80 L388.37,173.80 L388.73,173.80 L389.09,173.80 L389.45,173.80 L389.81,173.80 L390.17,173.80 L390.53,173.80 L390.89,173.80 L391.25,173.80 L391.61,173.80 L391.97,173.79 L392.33,173.79 L392.69,173.79 L393.05,173.79 L393.41,173.79 L393.77,173.79 L394.13,173.79 L394.49,173.79 L394.85,173.79 L395.21,173.79 L395.57,173.79 L395.92,173.79 L396.28,173.79 L396.64,173.78 L397.00,173.78 L397.36,173.78 L397.72,173.78 L398.08,173.78 L398.44,173.78 L398.80,173.78 L399.16,173.78 L399.52,173.78 L399.88,173.78 L400.24,173.78 L400.60,173.78" stroke="#00ff00"/>
</g>
<rect x="41.70" y="97.15" width="358.85" height="77.85" fill="none" stroke="#000" stroke-width="2.10"/>
<text x="36.7" y="178.30" text-anchor="end" class="tk">0</text>
<text x="36.7" y="164.83" text-anchor="end" class="tk">0.5</text>
<text x="36.7" y="151.37" text-anchor="end" class="tk">1</text>
<text x="36.7" y="137.90" text-anchor="end" class="tk">1.5</text>
<text x="36.7" y="124.44" text-anchor="end" class="tk">2</text>
<text x="36.7" y="110.97" text-anchor="end" class="tk">2.5</text>
<text x="56.1" y="125.10" class="ul">U=0.55</text>
<path d="M328.1,115.80 H359.5" stroke="#ff0000" stroke-width="2.00"/>
<path d="M328.1,131.80 H359.5" stroke="#00ff00" stroke-width="2.00"/>
<text x="366.5" y="120.00" class="gs" font-size="11">σ</text>
<text x="372.45" y="120.90" class="lg" font-size="13">=</text>
<path d="M383.00,119.60 V109.30 M380.20,112.80 Q382.40,111.50 383.00,109.30 Q383.60,111.50 385.80,112.80" stroke="#505050" stroke-width="0.9" fill="none"/>
<text x="366.5" y="136.00" class="gs" font-size="11">σ</text>
<text x="372.45" y="136.90" class="lg" font-size="13">=</text>
<path d="M383.00,125.00 V135.10 M380.20,131.60 Q382.40,132.90 383.00,135.10 Q383.60,132.90 385.80,131.60" stroke="#505050" stroke-width="0.9" fill="none"/>
<g transform="translate(13.7,157.25) rotate(-90)">
<text x="-1.15" y="0" class="gs" font-size="18">ρ</text>
<text transform="translate(10.15,5.5) scale(0.9,1)" class="gs" font-size="14.6">σ</text>
<text x="18.9" y="0" font-size="18.5">(</text>
<text transform="translate(24.7,0) scale(0.905,1)" class="gs" font-size="18">ω</text>
<text x="36.3" y="0" font-size="18.5">)</text>
</g>
<path d="M71.61,258.70 V251.20 M101.52,258.70 V251.20 M131.43,258.70 V251.20 M161.33,258.70 V251.20 M191.24,258.70 V251.20 M221.15,258.70 V251.20 M251.06,258.70 V251.20 M280.97,258.70 V251.20 M310.88,258.70 V251.20 M340.78,258.70 V251.20 M370.69,258.70 V251.20 M41.70,242.31 H49.20 M41.70,226.01 H49.20 M41.70,209.72 H49.20 M41.70,193.42 H49.20" stroke="#000" stroke-width="1.90" fill="none"/>
<clipPath id="c2"><rect x="41.70" y="181.35" width="358.85" height="77.95"/></clipPath>
<g clip-path="url(#c2)" fill="none" stroke-width="2.10" stroke-linejoin="round">
<path d="M41.70,258.60 L42.06,258.60 L42.42,258.60 L42.78,258.60 L43.14,258.60 L43.50,258.60 L43.86,258.60 L44.22,258.60 L44.58,258.60 L44.94,258.60 L45.30,258.59 L45.66,258.59 L46.02,258.59 L46.38,258.59 L46.73,258.59 L47.09,258.59 L47.45,258.59 L47.81,258.59 L48.17,258.59 L48.53,258.59 L48.89,258.59 L49.25,258.58 L49.61,258.58 L49.97,258.58 L50.33,258.58 L50.69,258.58 L51.05,258.57 L51.41,258.57 L51.77,258.57 L52.13,258.57 L52.49,258.56 L52.85,258.56 L53.21,258.56 L53.57,258.56 L53.93,258.55 L54.29,258.55 L54.65,258.54 L55.01,258.54 L55.37,258.54 L55.73,258.53 L56.08,258.53 L56.44,258.52 L56.80,258.52 L57.16,258.51 L57.52,258.51 L57.88,258.50 L58.24,258.49 L58.60,258.49 L58.96,258.48 L59.32,258.47 L59.68,258.47 L60.04,258.46 L60.40,258.45 L60.76,258.44 L61.12,258.43 L61.48,258.42 L61.84,258.41 L62.20,258.41 L62.56,258.40 L62.92,258.38 L63.28,258.37 L63.64,258.36 L64.00,258.35 L64.36,258.34 L64.72,258.33 L65.08,258.32 L65.43,258.30 L65.79,258.29 L66.15,258.28 L66.51,258.26 L66.87,258.25 L67.23,258.23 L67.59,258.22 L67.95,258.20 L68.31,258.18 L68.67,258.17 L69.03,258.15 L69.39,258.13 L69.75,258.11 L70.11,258.10 L70.47,258.08 L70.83,258.06 L71.19,258.04 L71.55,258.02 L71.91,258.00 L72.27,257.97 L72.63,257.95 L72.99,257.93 L73.35,257.91 L73.71,257.88 L74.07,257.86 L74.43,257.83 L74.78,257.81 L75.14,257.78 L75.50,257.76 L75.86,257.73 L76.22,257.70 L76.58,257.67 L76.94,257.64 L77.30,257.62 L77.66,257.59 L78.02,257.55 L78.38,257.52 L78.74,257.49 L79.10,257.46 L79.46,257.43 L79.82,257.39 L80.18,257.36 L80.54,257.32 L80.90,257.29 L81.26,257.25 L81.62,257.21 L81.98,257.18 L82.34,257.14 L82.70,257.10 L83.06,257.06 L83.42,257.02 L83.78,256.98 L84.14,256.94 L84.49,256.89 L84.85,256.85 L85.21,256.81 L85.57,256.76 L85.93,256.72 L86.29,256.67 L86.65,256.62 L87.01,256.57 L87.37,256.53 L87.73,256.48 L88.09,256.43 L88.45,256.37 L88.81,256.32 L89.17,256.27 L89.53,256.22 L89.89,256.16 L90.25,256.11 L90.61,256.05 L90.97,255.99 L91.33,255.94 L91.69,255.88 L92.05,255.82 L92.41,255.76 L92.77,255.70 L93.13,255.64 L93.49,255.57 L93.84,255.51 L94.20,255.45 L94.56,255.38 L94.92,255.31 L95.28,255.25 L95.64,255.18 L96.00,255.11 L96.36,255.04 L96.72,254.97 L97.08,254.90 L97.44,254.82 L97.80,254.75 L98.16,254.67 L98.52,254.60 L98.88,254.52 L99.24,254.44 L99.60,254.37 L99.96,254.29 L100.32,254.21 L100.68,254.12 L101.04,254.04 L101.40,253.96 L101.76,253.87 L102.12,253.79 L102.48,253.70 L102.84,253.61 L103.19,253.52 L103.55,253.43 L103.91,253.34 L104.27,253.25 L104.63,253.16 L104.99,253.06 L105.35,252.97 L105.71,252.87 L106.07,252.77 L106.43,252.68 L106.79,252.58 L107.15,252.48 L107.51,252.37 L107.87,252.27 L108.23,252.17 L108.59,252.06 L108.95,251.95 L109.31,251.85 L109.67,251.74 L110.03,251.63 L110.39,251.52 L110.75,251.40 L111.11,251.29 L111.47,251.18 L111.83,251.06 L112.19,250.94 L112.54,250.82 L112.90,250.71 L113.26,250.58 L113.62,250.46 L113.98,250.34 L114.34,250.21 L114.70,250.09 L115.06,249.96 L115.42,249.83 L115.78,249.70 L116.14,249.57 L116.50,249.44 L116.86,249.31 L117.22,249.17 L117.58,249.04 L117.94,248.90 L118.30,248.76 L118.66,248.62 L119.02,248.48 L119.38,248.34 L119.74,248.19 L120.10,248.05 L120.46,247.90 L120.82,247.75 L121.18,247.60 L121.54,247.45 L121.90,247.30 L122.25,247.15 L122.61,246.99 L122.97,246.84 L123.33,246.68 L123.69,246.52 L124.05,246.36 L124.41,246.20 L124.77,246.04 L125.13,245.87 L125.49,245.71 L125.85,245.54 L126.21,245.37 L126.57,245.20 L126.93,245.03 L127.29,244.86 L127.65,244.68 L128.01,244.51 L128.37,244.33 L128.73,244.15 L129.09,243.98 L129.45,243.80 L129.81,243.62 L130.17,243.44 L130.53,243.25 L130.89,243.07 L131.25,242.89 L131.60,242.70 L131.96,242.52 L132.32,242.33 L132.68,242.14 L133.04,241.96 L133.40,241.77 L133.76,241.58 L134.12,241.39 L134.48,241.20 L134.84,241.01 L135.20,240.82 L135.56,240.62 L135.92,240.43 L136.28,240.24 L136.64,240.05 L137.00,239.85 L137.36,239.66 L137.72,239.47 L138.08,239.27 L138.44,239.08 L138.80,238.88 L139.16,238.69 L139.52,238.49 L139.88,238.30 L140.24,238.11 L140.60,237.91 L140.95,237.72 L141.31,237.52 L141.67,237.33 L142.03,237.13 L142.39,236.94 L142.75,236.74 L143.11,236.55 L143.47,236.35 L143.83,236.16 L144.19,235.97 L144.55,235.78 L144.91,235.58 L145.27,235.39 L145.63,235.20 L145.99,235.01 L146.35,234.82 L146.71,234.63 L147.07,234.44 L147.43,234.25 L147.79,234.06 L148.15,233.87 L148.51,233.69 L148.87,233.50 L149.23,233.31 L149.59,233.13 L149.95,232.95 L150.31,232.76 L150.66,232.58 L151.02,232.40 L151.38,232.22 L151.74,232.04 L152.10,231.86 L152.46,231.68 L152.82,231.51 L153.18,231.33 L153.54,231.16 L153.90,230.99 L154.26,230.82 L154.62,230.65 L154.98,230.48 L155.34,230.31 L155.70,230.14 L156.06,229.98 L156.42,229.82 L156.78,229.66 L157.14,229.49 L157.50,229.34 L157.86,229.18 L158.22,229.02 L158.58,228.87 L158.94,228.72 L159.30,228.57 L159.66,228.42 L160.01,228.27 L160.37,228.12 L160.73,227.98 L161.09,227.84 L161.45,227.70 L161.81,227.56 L162.17,227.43 L162.53,227.29 L162.89,227.16 L163.25,227.03 L163.61,226.90 L163.97,226.78 L164.33,226.65 L164.69,226.53 L165.05,226.41 L165.41,226.29 L165.77,226.18 L166.13,226.07 L166.49,225.96 L166.85,225.85 L167.21,225.74 L167.57,225.64 L167.93,225.54 L168.29,225.44 L168.65,225.35 L169.01,225.25 L169.36,225.16 L169.72,225.07 L170.08,224.99 L170.44,224.91 L170.80,224.83 L171.16,224.75 L171.52,224.67 L171.88,224.60 L172.24,224.53 L172.60,224.47 L172.96,224.41 L173.32,224.35 L173.68,224.29 L174.04,224.23 L174.40,224.18 L174.76,224.13 L175.12,224.08 L175.48,224.04 L175.84,224.01 L176.20,223.97 L176.56,223.94 L176.92,223.91 L177.28,223.88 L177.64,223.85 L178.00,223.83 L178.36,223.82 L178.71,223.82 L179.07,223.82 L179.43,223.82 L179.79,223.82 L180.15,223.82 L180.51,223.83 L180.87,223.83 L181.23,223.83 L181.59,223.84 L181.95,223.85 L182.31,223.87 L182.67,223.90 L183.03,223.93 L183.39,223.97 L183.75,224.02 L184.11,224.06 L184.47,224.11 L184.83,224.16 L185.19,224.22 L185.55,224.28 L185.91,224.36 L186.27,224.43 L186.63,224.52 L186.99,224.60 L187.35,224.69 L187.71,224.79 L188.07,224.90 L188.42,225.02 L188.78,225.14 L189.14,225.27 L189.50,225.41 L189.86,225.55 L190.22,225.70 L190.58,225.86 L190.94,226.03 L191.30,226.21 L191.66,226.40 L192.02,226.59 L192.38,226.80 L192.74,227.00 L193.10,227.22 L193.46,227.44 L193.82,227.68 L194.18,227.92 L194.54,228.18 L194.90,228.44 L195.26,228.71 L195.62,228.98 L195.98,229.26 L196.34,229.56 L196.70,229.86 L197.06,230.17 L197.42,230.49 L197.77,230.82 L198.13,231.15 L198.49,231.49 L198.85,231.84 L199.21,232.20 L199.57,232.57 L199.93,232.95 L200.29,233.34 L200.65,233.73 L201.01,234.14 L201.37,234.55 L201.73,234.97 L202.09,235.39 L202.45,235.83 L202.81,236.28 L203.17,236.73 L203.53,237.20 L203.89,237.67 L204.25,238.15 L204.61,238.63 L204.97,239.13 L205.33,239.64 L205.69,240.15 L206.05,240.68 L206.41,241.21 L206.77,241.75 L207.12,242.30 L207.48,242.86 L207.84,243.42 L208.20,244.00 L208.56,244.59 L208.92,245.18 L209.28,245.78 L209.64,246.39 L210.00,247.01 L210.36,247.63 L210.72,248.25 L211.08,248.88 L211.44,249.51 L211.80,250.15 L212.16,250.80 L212.52,251.47 L212.88,252.15 L213.24,252.84 L213.60,253.56 L213.96,254.32 L214.32,255.15 L214.68,255.96 L215.04,256.70 L215.40,257.44 L215.76,257.98 L216.12,258.32 L216.47,258.56 L216.83,258.60 L217.19,258.60 L217.55,258.60 L217.91,258.60 L218.27,258.60 L218.63,258.60 L218.99,258.60 L219.35,258.60 L219.71,258.60 L220.07,258.60 L220.43,258.60 L220.79,258.60 L221.15,258.60 L221.51,258.60 L221.87,258.60 L222.23,258.60 L222.59,258.60 L222.95,258.60 L223.31,258.60 L223.67,258.60 L224.03,258.60 L224.39,258.60 L224.75,258.60 L225.11,258.60 L225.47,258.60 L225.83,258.56 L226.18,258.32 L226.54,257.98 L226.90,257.44 L227.26,256.70 L227.62,255.96 L227.98,255.15 L228.34,254.32 L228.70,253.56 L229.06,252.84 L229.42,252.15 L229.78,251.47 L230.14,250.80 L230.50,250.15 L230.86,249.51 L231.22,248.88 L231.58,248.25 L231.94,247.63 L232.30,247.01 L232.66,246.39 L233.02,245.78 L233.38,245.18 L233.74,244.59 L234.10,244.00 L234.46,243.42 L234.82,242.86 L235.18,242.30 L235.53,241.75 L235.89,241.21 L236.25,240.68 L236.61,240.15 L236.97,239.64 L237.33,239.13 L237.69,238.63 L238.05,238.15 L238.41,237.67 L238.77,237.20 L239.13,236.73 L239.49,236.28 L239.85,235.83 L240.21,235.39 L240.57,234.97 L240.93,234.55 L241.29,234.14 L241.65,233.73 L242.01,233.34 L242.37,232.95 L242.73,232.57 L243.09,232.20 L243.45,231.84 L243.81,231.49 L244.17,231.15 L244.53,230.82 L244.88,230.49 L245.24,230.17 L245.60,229.86 L245.96,229.56 L246.32,229.26 L246.68,228.98 L247.04,228.71 L247.40,228.44 L247.76,228.18 L248.12,227.92 L248.48,227.68 L248.84,227.44 L249.20,227.22 L249.56,227.00 L249.92,226.80 L250.28,226.59 L250.64,226.40 L251.00,226.21 L251.36,226.03 L251.72,225.86 L252.08,225.70 L252.44,225.55 L252.80,225.41 L253.16,225.27 L253.52,225.14 L253.88,225.02 L254.23,224.90 L254.59,224.79 L254.95,224.69 L255.31,224.60 L255.67,224.52 L256.03,224.43 L256.39,224.36 L256.75,224.28 L257.11,224.22 L257.47,224.16 L257.83,224.11 L258.19,224.06 L258.55,224.02 L258.91,223.97 L259.27,223.93 L259.63,223.90 L259.99,223.87 L260.35,223.85 L260.71,223.84 L261.07,223.83 L261.43,223.83 L261.79,223.83 L262.15,223.82 L262.51,223.82 L262.87,223.82 L263.23,223.82 L263.59,223.82 L263.94,223.82 L264.30,223.83 L264.66,223.85 L265.02,223.88 L265.38,223.91 L265.74,223.94 L266.10,223.97 L266.46,224.01 L266.82,224.04 L267.18,224.08 L267.54,224.13 L267.90,224.18 L268.26,224.23 L268.62,224.29 L268.98,224.35 L269.34,224.41 L269.70,224.47 L270.06,224.53 L270.42,224.60 L270.78,224.67 L271.14,224.75 L271.50,224.83 L271.86,224.91 L272.22,224.99 L272.58,225.07 L272.94,225.16 L273.29,225.25 L273.65,225.35 L274.01,225.44 L274.37,225.54 L274.73,225.64 L275.09,225.74 L275.45,225.85 L275.81,225.96 L276.17,226.07 L276.53,226.18 L276.89,226.29 L277.25,226.41 L277.61,226.53 L277.97,226.65 L278.33,226.78 L278.69,226.90 L279.05,227.03 L279.41,227.16 L279.77,227.29 L280.13,227.43 L280.49,227.56 L280.85,227.70 L281.21,227.84 L281.57,227.98 L281.93,228.12 L282.29,228.27 L282.64,228.42 L283.00,228.57 L283.36,228.72 L283.72,228.87 L284.08,229.02 L284.44,229.18 L284.80,229.34 L285.16,229.49 L285.52,229.66 L285.88,229.82 L286.24,229.98 L286.60,230.14 L286.96,230.31 L287.32,230.48 L287.68,230.65 L288.04,230.82 L288.40,230.99 L288.76,231.16 L289.12,231.33 L289.48,231.51 L289.84,231.68 L290.20,231.86 L290.56,232.04 L290.92,232.22 L291.28,232.40 L291.64,232.58 L291.99,232.76 L292.35,232.95 L292.71,233.13 L293.07,233.31 L293.43,233.50 L293.79,233.69 L294.15,233.87 L294.51,234.06 L294.87,234.25 L295.23,234.44 L295.59,234.63 L295.95,234.82 L296.31,235.01 L296.67,235.20 L297.03,235.39 L297.39,235.58 L297.75,235.78 L298.11,235.97 L298.47,236.16 L298.83,236.35 L299.19,236.55 L299.55,236.74 L299.91,236.94 L300.27,237.13 L300.63,237.33 L300.99,237.52 L301.35,237.72 L301.70,237.91 L302.06,238.11 L302.42,238.30 L302.78,238.49 L303.14,238.69 L303.50,238.88 L303.86,239.08 L304.22,239.27 L304.58,239.47 L304.94,239.66 L305.30,239.85 L305.66,240.05 L306.02,240.24 L306.38,240.43 L306.74,240.62 L307.10,240.82 L307.46,241.01 L307.82,241.20 L308.18,241.39 L308.54,241.58 L308.90,241.77 L309.26,241.96 L309.62,242.14 L309.98,242.33 L310.34,242.52 L310.70,242.70 L311.05,242.89 L311.41,243.07 L311.77,243.25 L312.13,243.44 L312.49,243.62 L312.85,243.80 L313.21,243.98 L313.57,244.15 L313.93,244.33 L314.29,244.51 L314.65,244.68 L315.01,244.86 L315.37,245.03 L315.73,245.20 L316.09,245.37 L316.45,245.54 L316.81,245.71 L317.17,245.87 L317.53,246.04 L317.89,246.20 L318.25,246.36 L318.61,246.52 L318.97,246.68 L319.33,246.84 L319.69,246.99 L320.05,247.15 L320.40,247.30 L320.76,247.45 L321.12,247.60 L321.48,247.75 L321.84,247.90 L322.20,248.05 L322.56,248.19 L322.92,248.34 L323.28,248.48 L323.64,248.62 L324.00,248.76 L324.36,248.90 L324.72,249.04 L325.08,249.17 L325.44,249.31 L325.80,249.44 L326.16,249.57 L326.52,249.70 L326.88,249.83 L327.24,249.96 L327.60,250.09 L327.96,250.21 L328.32,250.34 L328.68,250.46 L329.04,250.58 L329.40,250.71 L329.76,250.82 L330.11,250.94 L330.47,251.06 L330.83,251.18 L331.19,251.29 L331.55,251.40 L331.91,251.52 L332.27,251.63 L332.63,251.74 L332.99,251.85 L333.35,251.95 L333.71,252.06 L334.07,252.17 L334.43,252.27 L334.79,252.37 L335.15,252.48 L335.51,252.58 L335.87,252.68 L336.23,252.77 L336.59,252.87 L336.95,252.97 L337.31,253.06 L337.67,253.16 L338.03,253.25 L338.39,253.34 L338.75,253.43 L339.11,253.52 L339.46,253.61 L339.82,253.70 L340.18,253.79 L340.54,253.87 L340.90,253.96 L341.26,254.04 L341.62,254.12 L341.98,254.21 L342.34,254.29 L342.70,254.37 L343.06,254.44 L343.42,254.52 L343.78,254.60 L344.14,254.67 L344.50,254.75 L344.86,254.82 L345.22,254.90 L345.58,254.97 L345.94,255.04 L346.30,255.11 L346.66,255.18 L347.02,255.25 L347.38,255.31 L347.74,255.38 L348.10,255.45 L348.46,255.51 L348.81,255.57 L349.17,255.64 L349.53,255.70 L349.89,255.76 L350.25,255.82 L350.61,255.88 L350.97,255.94 L351.33,255.99 L351.69,256.05 L352.05,256.11 L352.41,256.16 L352.77,256.22 L353.13,256.27 L353.49,256.32 L353.85,256.37 L354.21,256.43 L354.57,256.48 L354.93,256.53 L355.29,256.57 L355.65,256.62 L356.01,256.67 L356.37,256.72 L356.73,256.76 L357.09,256.81 L357.45,256.85 L357.81,256.89 L358.16,256.94 L358.52,256.98 L358.88,257.02 L359.24,257.06 L359.60,257.10 L359.96,257.14 L360.32,257.18 L360.68,257.21 L361.04,257.25 L361.40,257.29 L361.76,257.32 L362.12,257.36 L362.48,257.39 L362.84,257.43 L363.20,257.46 L363.56,257.49 L363.92,257.52 L364.28,257.55 L364.64,257.59 L365.00,257.62 L365.36,257.64 L365.72,257.67 L366.08,257.70 L366.44,257.73 L366.80,257.76 L367.16,257.78 L367.52,257.81 L367.87,257.83 L368.23,257.86 L368.59,257.88 L368.95,257.91 L369.31,257.93 L369.67,257.95 L370.03,257.97 L370.39,258.00 L370.75,258.02 L371.11,258.04 L371.47,258.06 L371.83,258.08 L372.19,258.10 L372.55,258.11 L372.91,258.13 L373.27,258.15 L373.63,258.17 L373.99,258.18 L374.35,258.20 L374.71,258.22 L375.07,258.23 L375.43,258.25 L375.79,258.26 L376.15,258.28 L376.51,258.29 L376.87,258.30 L377.22,258.32 L377.58,258.33 L377.94,258.34 L378.30,258.35 L378.66,258.36 L379.02,258.37 L379.38,258.38 L379.74,258.40 L380.10,258.41 L380.46,258.41 L380.82,258.42 L381.18,258.43 L381.54,258.44 L381.90,258.45 L382.26,258.46 L382.62,258.47 L382.98,258.47 L383.34,258.48 L383.70,258.49 L384.06,258.49 L384.42,258.50 L384.78,258.51 L385.14,258.51 L385.50,258.52 L385.86,258.52 L386.22,258.53 L386.57,258.53 L386.93,258.54 L387.29,258.54 L387.65,258.54 L388.01,258.55 L388.37,258.55 L388.73,258.56 L389.09,258.56 L389.45,258.56 L389.81,258.56 L390.17,258.57 L390.53,258.57 L390.89,258.57 L391.25,258.57 L391.61,258.58 L391.97,258.58 L392.33,258.58 L392.69,258.58 L393.05,258.58 L393.41,258.59 L393.77,258.59 L394.13,258.59 L394.49,258.59 L394.85,258.59 L395.21,258.59 L395.57,258.59 L395.92,258.59 L396.28,258.59 L396.64,258.59 L397.00,258.59 L397.36,258.60 L397.72,258.60 L398.08,258.60 L398.44,258.60 L398.80,258.60 L399.16,258.60 L399.52,258.60 L399.88,258.60 L400.24,258.60 L400.60,258.60" stroke="#ff0000"/>
<path d="M41.70,258.60 L42.06,258.60 L42.42,258.60 L42.78,258.60 L43.14,258.60 L43.50,258.59 L43.86,258.59 L44.22,258.59 L44.58,258.59 L44.94,258.59 L45.30,258.59 L45.66,258.59 L46.02,258.59 L46.38,258.59 L46.73,258.59 L47.09,258.59 L47.45,258.58 L47.81,258.58 L48.17,258.58 L48.53,258.58 L48.89,258.58 L49.25,258.58 L49.61,258.58 L49.97,258.58 L50.33,258.58 L50.69,258.58 L51.05,258.58 L51.41,258.58 L51.77,258.58 L52.13,258.58 L52.49,258.59 L52.85,258.59 L53.21,258.59 L53.57,258.59 L53.93,258.59 L54.29,258.59 L54.65,258.59 L55.01,258.59 L55.37,258.59 L55.73,258.59 L56.08,258.58 L56.44,258.58 L56.80,258.58 L57.16,258.58 L57.52,258.58 L57.88,258.58 L58.24,258.58 L58.60,258.58 L58.96,258.58 L59.32,258.58 L59.68,258.58 L60.04,258.58 L60.40,258.57 L60.76,258.57 L61.12,258.57 L61.48,258.57 L61.84,258.57 L62.20,258.56 L62.56,258.56 L62.92,258.56 L63.28,258.56 L63.64,258.55 L64.00,258.55 L64.36,258.55 L64.72,258.54 L65.08,258.54 L65.43,258.54 L65.79,258.53 L66.15,258.53 L66.51,258.52 L66.87,258.52 L67.23,258.51 L67.59,258.51 L67.95,258.50 L68.31,258.49 L68.67,258.49 L69.03,258.48 L69.39,258.47 L69.75,258.47 L70.11,258.46 L70.47,258.45 L70.83,258.44 L71.19,258.43 L71.55,258.42 L71.91,258.42 L72.27,258.41 L72.63,258.40 L72.99,258.39 L73.35,258.38 L73.71,258.36 L74.07,258.35 L74.43,258.34 L74.78,258.33 L75.14,258.32 L75.50,258.30 L75.86,258.29 L76.22,258.28 L76.58,258.26 L76.94,258.25 L77.30,258.23 L77.66,258.22 L78.02,258.20 L78.38,258.19 L78.74,258.17 L79.10,258.15 L79.46,258.13 L79.82,258.12 L80.18,258.10 L80.54,258.08 L80.90,258.06 L81.26,258.04 L81.62,258.02 L81.98,258.00 L82.34,257.97 L82.70,257.95 L83.06,257.93 L83.42,257.91 L83.78,257.88 L84.14,257.86 L84.49,257.83 L84.85,257.81 L85.21,257.78 L85.57,257.76 L85.93,257.73 L86.29,257.70 L86.65,257.67 L87.01,257.64 L87.37,257.61 L87.73,257.58 L88.09,257.55 L88.45,257.52 L88.81,257.49 L89.17,257.46 L89.53,257.43 L89.89,257.39 L90.25,257.36 L90.61,257.32 L90.97,257.29 L91.33,257.25 L91.69,257.22 L92.05,257.18 L92.41,257.15 L92.77,257.11 L93.13,257.07 L93.49,257.03 L93.84,256.99 L94.20,256.96 L94.56,256.92 L94.92,256.88 L95.28,256.84 L95.64,256.80 L96.00,256.76 L96.36,256.71 L96.72,256.67 L97.08,256.63 L97.44,256.59 L97.80,256.55 L98.16,256.50 L98.52,256.46 L98.88,256.42 L99.24,256.37 L99.60,256.33 L99.96,256.29 L100.32,256.24 L100.68,256.20 L101.04,256.15 L101.40,256.11 L101.76,256.06 L102.12,256.02 L102.48,255.97 L102.84,255.92 L103.19,255.88 L103.55,255.83 L103.91,255.78 L104.27,255.73 L104.63,255.68 L104.99,255.63 L105.35,255.57 L105.71,255.52 L106.07,255.47 L106.43,255.41 L106.79,255.35 L107.15,255.29 L107.51,255.23 L107.87,255.17 L108.23,255.10 L108.59,255.04 L108.95,254.97 L109.31,254.90 L109.67,254.83 L110.03,254.75 L110.39,254.67 L110.75,254.59 L111.11,254.51 L111.47,254.43 L111.83,254.34 L112.19,254.25 L112.54,254.16 L112.90,254.06 L113.26,253.96 L113.62,253.86 L113.98,253.75 L114.34,253.64 L114.70,253.53 L115.06,253.41 L115.42,253.30 L115.78,253.17 L116.14,253.05 L116.50,252.92 L116.86,252.79 L117.22,252.65 L117.58,252.51 L117.94,252.37 L118.30,252.22 L118.66,252.07 L119.02,251.92 L119.38,251.77 L119.74,251.61 L120.10,251.44 L120.46,251.28 L120.82,251.11 L121.18,250.93 L121.54,250.76 L121.90,250.58 L122.25,250.39 L122.61,250.21 L122.97,250.01 L123.33,249.82 L123.69,249.62 L124.05,249.42 L124.41,249.22 L124.77,249.01 L125.13,248.79 L125.49,248.58 L125.85,248.36 L126.21,248.14 L126.57,247.91 L126.93,247.68 L127.29,247.44 L127.65,247.20 L128.01,246.96 L128.37,246.72 L128.73,246.47 L129.09,246.22 L129.45,245.96 L129.81,245.70 L130.17,245.43 L130.53,245.17 L130.89,244.89 L131.25,244.62 L131.60,244.34 L131.96,244.05 L132.32,243.77 L132.68,243.48 L133.04,243.18 L133.40,242.88 L133.76,242.58 L134.12,242.27 L134.48,241.96 L134.84,241.65 L135.20,241.33 L135.56,241.00 L135.92,240.68 L136.28,240.35 L136.64,240.01 L137.00,239.67 L137.36,239.33 L137.72,238.98 L138.08,238.63 L138.44,238.28 L138.80,237.92 L139.16,237.56 L139.52,237.19 L139.88,236.82 L140.24,236.44 L140.60,236.06 L140.95,235.68 L141.31,235.29 L141.67,234.90 L142.03,234.50 L142.39,234.10 L142.75,233.70 L143.11,233.29 L143.47,232.87 L143.83,232.46 L144.19,232.03 L144.55,231.61 L144.91,231.18 L145.27,230.74 L145.63,230.30 L145.99,229.86 L146.35,229.41 L146.71,228.96 L147.07,228.50 L147.43,228.04 L147.79,227.58 L148.15,227.11 L148.51,226.64 L148.87,226.16 L149.23,225.68 L149.59,225.20 L149.95,224.71 L150.31,224.22 L150.66,223.72 L151.02,223.23 L151.38,222.73 L151.74,222.22 L152.10,221.71 L152.46,221.20 L152.82,220.69 L153.18,220.17 L153.54,219.65 L153.90,219.13 L154.26,218.61 L154.62,218.08 L154.98,217.55 L155.34,217.02 L155.70,216.49 L156.06,215.95 L156.42,215.41 L156.78,214.87 L157.14,214.34 L157.50,213.80 L157.86,213.25 L158.22,212.71 L158.58,212.17 L158.94,211.62 L159.30,211.08 L159.66,210.53 L160.01,209.99 L160.37,209.45 L160.73,208.90 L161.09,208.36 L161.45,207.82 L161.81,207.27 L162.17,206.73 L162.53,206.20 L162.89,205.67 L163.25,205.14 L163.61,204.61 L163.97,204.08 L164.33,203.55 L164.69,203.03 L165.05,202.52 L165.41,202.02 L165.77,201.52 L166.13,201.02 L166.49,200.53 L166.85,200.04 L167.21,199.57 L167.57,199.10 L167.93,198.64 L168.29,198.19 L168.65,197.75 L169.01,197.31 L169.36,196.89 L169.72,196.47 L170.08,196.06 L170.44,195.66 L170.80,195.27 L171.16,194.89 L171.52,194.52 L171.88,194.16 L172.24,193.81 L172.60,193.46 L172.96,193.12 L173.32,192.79 L173.68,192.48 L174.04,192.17 L174.40,191.87 L174.76,191.58 L175.12,191.29 L175.48,191.01 L175.84,190.75 L176.20,190.49 L176.56,190.24 L176.92,190.00 L177.28,189.77 L177.64,189.55 L178.00,189.33 L178.36,189.12 L178.71,188.92 L179.07,188.73 L179.43,188.55 L179.79,188.39 L180.15,188.22 L180.51,188.06 L180.87,187.91 L181.23,187.77 L181.59,187.64 L181.95,187.51 L182.31,187.40 L182.67,187.30 L183.03,187.20 L183.39,187.11 L183.75,187.02 L184.11,186.94 L184.47,186.87 L184.83,186.81 L185.19,186.77 L185.55,186.74 L185.91,186.71 L186.27,186.68 L186.63,186.66 L186.99,186.64 L187.35,186.63 L187.71,186.62 L188.07,186.61 L188.42,186.62 L188.78,186.64 L189.14,186.67 L189.50,186.71 L189.86,186.75 L190.22,186.79 L190.58,186.84 L190.94,186.89 L191.30,186.94 L191.66,187.01 L192.02,187.09 L192.38,187.17 L192.74,187.26 L193.10,187.35 L193.46,187.45 L193.82,187.55 L194.18,187.66 L194.54,187.77 L194.90,187.90 L195.26,188.03 L195.62,188.16 L195.98,188.31 L196.34,188.46 L196.70,188.62 L197.06,188.79 L197.42,188.97 L197.77,189.16 L198.13,189.37 L198.49,189.58 L198.85,189.81 L199.21,190.04 L199.57,190.29 L199.93,190.55 L200.29,190.83 L200.65,191.13 L201.01,191.44 L201.37,191.76 L201.73,192.09 L202.09,192.44 L202.45,192.81 L202.81,193.19 L203.17,193.60 L203.53,194.02 L203.89,194.47 L204.25,194.93 L204.61,195.40 L204.97,195.89 L205.33,196.40 L205.69,196.93 L206.05,197.49 L206.41,198.07 L206.77,198.67 L207.12,199.30 L207.48,199.95 L207.84,200.63 L208.20,201.32 L208.56,202.02 L208.92,202.74 L209.28,203.47 L209.64,204.23 L210.00,205.02 L210.36,205.85 L210.72,206.71 L211.08,207.63 L211.44,208.60 L211.80,209.63 L212.16,210.73 L212.52,211.89 L212.88,213.22 L213.24,214.82 L213.60,216.61 L213.96,218.55 L214.32,220.58 L214.68,222.62 L215.04,224.61 L215.40,226.51 L215.76,228.23 L216.12,229.79 L216.47,231.30 L216.83,232.90 L217.19,234.72 L217.55,236.95 L217.91,239.88 L218.27,243.05 L218.63,246.26 L218.99,249.85 L219.35,253.58 L219.71,255.60 L220.07,256.96 L220.43,257.92 L220.79,258.39 L221.15,258.60 L221.51,258.39 L221.87,257.92 L222.23,256.96 L222.59,255.60 L222.95,253.58 L223.31,249.85 L223.67,246.26 L224.03,243.05 L224.39,239.88 L224.75,236.95 L225.11,234.72 L225.47,232.90 L225.83,231.30 L226.18,229.79 L226.54,228.23 L226.90,226.51 L227.26,224.61 L227.62,222.62 L227.98,220.58 L228.34,218.55 L228.70,216.61 L229.06,214.82 L229.42,213.22 L229.78,211.89 L230.14,210.73 L230.50,209.63 L230.86,208.60 L231.22,207.63 L231.58,206.71 L231.94,205.85 L232.30,205.02 L232.66,204.23 L233.02,203.47 L233.38,202.74 L233.74,202.02 L234.10,201.32 L234.46,200.63 L234.82,199.95 L235.18,199.30 L235.53,198.67 L235.89,198.07 L236.25,197.49 L236.61,196.93 L236.97,196.40 L237.33,195.89 L237.69,195.40 L238.05,194.93 L238.41,194.47 L238.77,194.02 L239.13,193.60 L239.49,193.19 L239.85,192.81 L240.21,192.44 L240.57,192.09 L240.93,191.76 L241.29,191.44 L241.65,191.13 L242.01,190.83 L242.37,190.55 L242.73,190.29 L243.09,190.04 L243.45,189.81 L243.81,189.58 L244.17,189.37 L244.53,189.16 L244.88,188.97 L245.24,188.79 L245.60,188.62 L245.96,188.46 L246.32,188.31 L246.68,188.16 L247.04,188.03 L247.40,187.90 L247.76,187.77 L248.12,187.66 L248.48,187.55 L248.84,187.45 L249.20,187.35 L249.56,187.26 L249.92,187.17 L250.28,187.09 L250.64,187.01 L251.00,186.94 L251.36,186.89 L251.72,186.84 L252.08,186.79 L252.44,186.75 L252.80,186.71 L253.16,186.67 L253.52,186.64 L253.88,186.62 L254.23,186.61 L254.59,186.62 L254.95,186.63 L255.31,186.64 L255.67,186.66 L256.03,186.68 L256.39,186.71 L256.75,186.74 L257.11,186.77 L257.47,186.81 L257.83,186.87 L258.19,186.94 L258.55,187.02 L258.91,187.11 L259.27,187.20 L259.63,187.30 L259.99,187.40 L260.35,187.51 L260.71,187.64 L261.07,187.77 L261.43,187.91 L261.79,188.06 L262.15,188.22 L262.51,188.39 L262.87,188.55 L263.23,188.73 L263.59,188.92 L263.94,189.12 L264.30,189.33 L264.66,189.55 L265.02,189.77 L265.38,190.00 L265.74,190.24 L266.10,190.49 L266.46,190.75 L266.82,191.01 L267.18,191.29 L267.54,191.58 L267.90,191.87 L268.26,192.17 L268.62,192.48 L268.98,192.79 L269.34,193.12 L269.70,193.46 L270.06,193.81 L270.42,194.16 L270.78,194.52 L271.14,194.89 L271.50,195.27 L271.86,195.66 L272.22,196.06 L272.58,196.47 L272.94,196.89 L273.29,197.31 L273.65,197.75 L274.01,198.19 L274.37,198.64 L274.73,199.10 L275.09,199.57 L275.45,200.04 L275.81,200.53 L276.17,201.02 L276.53,201.52 L276.89,202.02 L277.25,202.52 L277.61,203.03 L277.97,203.55 L278.33,204.08 L278.69,204.61 L279.05,205.14 L279.41,205.67 L279.77,206.20 L280.13,206.73 L280.49,207.27 L280.85,207.82 L281.21,208.36 L281.57,208.90 L281.93,209.45 L282.29,209.99 L282.64,210.53 L283.00,211.08 L283.36,211.62 L283.72,212.17 L284.08,212.71 L284.44,213.25 L284.80,213.80 L285.16,214.34 L285.52,214.87 L285.88,215.41 L286.24,215.95 L286.60,216.49 L286.96,217.02 L287.32,217.55 L287.68,218.08 L288.04,218.61 L288.40,219.13 L288.76,219.65 L289.12,220.17 L289.48,220.69 L289.84,221.20 L290.20,221.71 L290.56,222.22 L290.92,222.73 L291.28,223.23 L291.64,223.72 L291.99,224.22 L292.35,224.71 L292.71,225.20 L293.07,225.68 L293.43,226.16 L293.79,226.64 L294.15,227.11 L294.51,227.58 L294.87,228.04 L295.23,228.50 L295.59,228.96 L295.95,229.41 L296.31,229.86 L296.67,230.30 L297.03,230.74 L297.39,231.18 L297.75,231.61 L298.11,232.03 L298.47,232.46 L298.83,232.87 L299.19,233.29 L299.55,233.70 L299.91,234.10 L300.27,234.50 L300.63,234.90 L300.99,235.29 L301.35,235.68 L301.70,236.06 L302.06,236.44 L302.42,236.82 L302.78,237.19 L303.14,237.56 L303.50,237.92 L303.86,238.28 L304.22,238.63 L304.58,238.98 L304.94,239.33 L305.30,239.67 L305.66,240.01 L306.02,240.35 L306.38,240.68 L306.74,241.00 L307.10,241.33 L307.46,241.65 L307.82,241.96 L308.18,242.27 L308.54,242.58 L308.90,242.88 L309.26,243.18 L309.62,243.48 L309.98,243.77 L310.34,244.05 L310.70,244.34 L311.05,244.62 L311.41,244.89 L311.77,245.17 L312.13,245.43 L312.49,245.70 L312.85,245.96 L313.21,246.22 L313.57,246.47 L313.93,246.72 L314.29,246.96 L314.65,247.20 L315.01,247.44 L315.37,247.68 L315.73,247.91 L316.09,248.14 L316.45,248.36 L316.81,248.58 L317.17,248.79 L317.53,249.01 L317.89,249.22 L318.25,249.42 L318.61,249.62 L318.97,249.82 L319.33,250.01 L319.69,250.21 L320.05,250.39 L320.40,250.58 L320.76,250.76 L321.12,250.93 L321.48,251.11 L321.84,251.28 L322.20,251.44 L322.56,251.61 L322.92,251.77 L323.28,251.92 L323.64,252.07 L324.00,252.22 L324.36,252.37 L324.72,252.51 L325.08,252.65 L325.44,252.79 L325.80,252.92 L326.16,253.05 L326.52,253.17 L326.88,253.30 L327.24,253.41 L327.60,253.53 L327.96,253.64 L328.32,253.75 L328.68,253.86 L329.04,253.96 L329.40,254.06 L329.76,254.16 L330.11,254.25 L330.47,254.34 L330.83,254.43 L331.19,254.51 L331.55,254.59 L331.91,254.67 L332.27,254.75 L332.63,254.83 L332.99,254.90 L333.35,254.97 L333.71,255.04 L334.07,255.10 L334.43,255.17 L334.79,255.23 L335.15,255.29 L335.51,255.35 L335.87,255.41 L336.23,255.47 L336.59,255.52 L336.95,255.57 L337.31,255.63 L337.67,255.68 L338.03,255.73 L338.39,255.78 L338.75,255.83 L339.11,255.88 L339.46,255.92 L339.82,255.97 L340.18,256.02 L340.54,256.06 L340.90,256.11 L341.26,256.15 L341.62,256.20 L341.98,256.24 L342.34,256.29 L342.70,256.33 L343.06,256.37 L343.42,256.42 L343.78,256.46 L344.14,256.50 L344.50,256.55 L344.86,256.59 L345.22,256.63 L345.58,256.67 L345.94,256.71 L346.30,256.76 L346.66,256.80 L347.02,256.84 L347.38,256.88 L347.74,256.92 L348.10,256.96 L348.46,256.99 L348.81,257.03 L349.17,257.07 L349.53,257.11 L349.89,257.15 L350.25,257.18 L350.61,257.22 L350.97,257.25 L351.33,257.29 L351.69,257.32 L352.05,257.36 L352.41,257.39 L352.77,257.43 L353.13,257.46 L353.49,257.49 L353.85,257.52 L354.21,257.55 L354.57,257.58 L354.93,257.61 L355.29,257.64 L355.65,257.67 L356.01,257.70 L356.37,257.73 L356.73,257.76 L357.09,257.78 L357.45,257.81 L357.81,257.83 L358.16,257.86 L358.52,257.88 L358.88,257.91 L359.24,257.93 L359.60,257.95 L359.96,257.97 L360.32,258.00 L360.68,258.02 L361.04,258.04 L361.40,258.06 L361.76,258.08 L362.12,258.10 L362.48,258.12 L362.84,258.13 L363.20,258.15 L363.56,258.17 L363.92,258.19 L364.28,258.20 L364.64,258.22 L365.00,258.23 L365.36,258.25 L365.72,258.26 L366.08,258.28 L366.44,258.29 L366.80,258.30 L367.16,258.32 L367.52,258.33 L367.87,258.34 L368.23,258.35 L368.59,258.36 L368.95,258.38 L369.31,258.39 L369.67,258.40 L370.03,258.41 L370.39,258.42 L370.75,258.42 L371.11,258.43 L371.47,258.44 L371.83,258.45 L372.19,258.46 L372.55,258.47 L372.91,258.47 L373.27,258.48 L373.63,258.49 L373.99,258.49 L374.35,258.50 L374.71,258.51 L375.07,258.51 L375.43,258.52 L375.79,258.52 L376.15,258.53 L376.51,258.53 L376.87,258.54 L377.22,258.54 L377.58,258.54 L377.94,258.55 L378.30,258.55 L378.66,258.55 L379.02,258.56 L379.38,258.56 L379.74,258.56 L380.10,258.56 L380.46,258.57 L380.82,258.57 L381.18,258.57 L381.54,258.57 L381.90,258.57 L382.26,258.58 L382.62,258.58 L382.98,258.58 L383.34,258.58 L383.70,258.58 L384.06,258.58 L384.42,258.58 L384.78,258.58 L385.14,258.58 L385.50,258.58 L385.86,258.58 L386.22,258.58 L386.57,258.59 L386.93,258.59 L387.29,258.59 L387.65,258.59 L388.01,258.59 L388.37,258.59 L388.73,258.59 L389.09,258.59 L389.45,258.59 L389.81,258.59 L390.17,258.58 L390.53,258.58 L390.89,258.58 L391.25,258.58 L391.61,258.58 L391.97,258.58 L392.33,258.58 L392.69,258.58 L393.05,258.58 L393.41,258.58 L393.77,258.58 L394.13,258.58 L394.49,258.58 L394.85,258.58 L395.21,258.59 L395.57,258.59 L395.92,258.59 L396.28,258.59 L396.64,258.59 L397.00,258.59 L397.36,258.59 L397.72,258.59 L398.08,258.59 L398.44,258.59 L398.80,258.59 L399.16,258.60 L399.52,258.60 L399.88,258.60 L400.24,258.60 L400.60,258.60" stroke="#00ff00"/>
</g>
<rect x="41.70" y="181.35" width="358.85" height="77.35" fill="none" stroke="#000" stroke-width="2.10"/>
<text x="36.7" y="262.00" text-anchor="end" class="tk">0</text>
<text x="36.7" y="245.61" text-anchor="end" class="tk">0.4</text>
<text x="36.7" y="229.31" text-anchor="end" class="tk">0.8</text>
<text x="36.7" y="213.02" text-anchor="end" class="tk">1.2</text>
<text x="36.7" y="196.72" text-anchor="end" class="tk">1.6</text>
<text x="56.1" y="209.80" class="ul">U=0.6</text>
<path d="M328.1,193.60 H359.5" stroke="#ff0000" stroke-width="2.00"/>
<path d="M328.1,209.60 H359.5" stroke="#00ff00" stroke-width="2.00"/>
<text x="366.5" y="197.80" class="gs" font-size="11">σ</text>
<text x="372.45" y="198.70" class="lg" font-size="13">=</text>
<path d="M383.00,197.40 V187.10 M380.20,190.60 Q382.40,189.30 383.00,187.10 Q383.60,189.30 385.80,190.60" stroke="#505050" stroke-width="0.9" fill="none"/>
<text x="366.5" y="213.80" class="gs" font-size="11">σ</text>
<text x="372.45" y="214.70" class="lg" font-size="13">=</text>
<path d="M383.00,202.80 V212.90 M380.20,209.40 Q382.40,210.70 383.00,212.90 Q383.60,210.70 385.80,209.40" stroke="#505050" stroke-width="0.9" fill="none"/>
<g transform="translate(13.7,241.20) rotate(-90)">
<text x="-1.15" y="0" class="gs" font-size="18">ρ</text>
<text transform="translate(10.15,5.5) scale(0.9,1)" class="gs" font-size="14.6">σ</text>
<text x="18.9" y="0" font-size="18.5">(</text>
<text transform="translate(24.7,0) scale(0.905,1)" class="gs" font-size="18">ω</text>
<text x="36.3" y="0" font-size="18.5">)</text>
</g>
<text x="41.70" y="270.4" text-anchor="middle" class="tk">-1.2</text>
<text x="71.61" y="270.4" text-anchor="middle" class="tk">-1</text>
<text x="101.52" y="270.4" text-anchor="middle" class="tk">-0.8</text>
<text x="131.43" y="270.4" text-anchor="middle" class="tk">-0.6</text>
<text x="161.33" y="270.4" text-anchor="middle" class="tk">-0.4</text>
<text x="191.24" y="270.4" text-anchor="middle" class="tk">-0.2</text>
<text x="221.15" y="270.4" text-anchor="middle" class="tk">0</text>
<text x="251.06" y="270.4" text-anchor="middle" class="tk">0.2</text>
<text x="280.97" y="270.4" text-anchor="middle" class="tk">0.4</text>
<text x="310.88" y="270.4" text-anchor="middle" class="tk">0.6</text>
<text x="340.78" y="270.4" text-anchor="middle" class="tk">0.8</text>
<text x="370.69" y="270.4" text-anchor="middle" class="tk">1</text>
<text x="400.60" y="270.4" text-anchor="middle" class="tk">1.2</text>
<text x="183.5" y="286.1" class="xl" letter-spacing="0.15">Energy,</text>
<text transform="translate(246.2,286.2) scale(0.905,1)" class="gs" font-size="18">ω</text>
</svg>
</body></html>
